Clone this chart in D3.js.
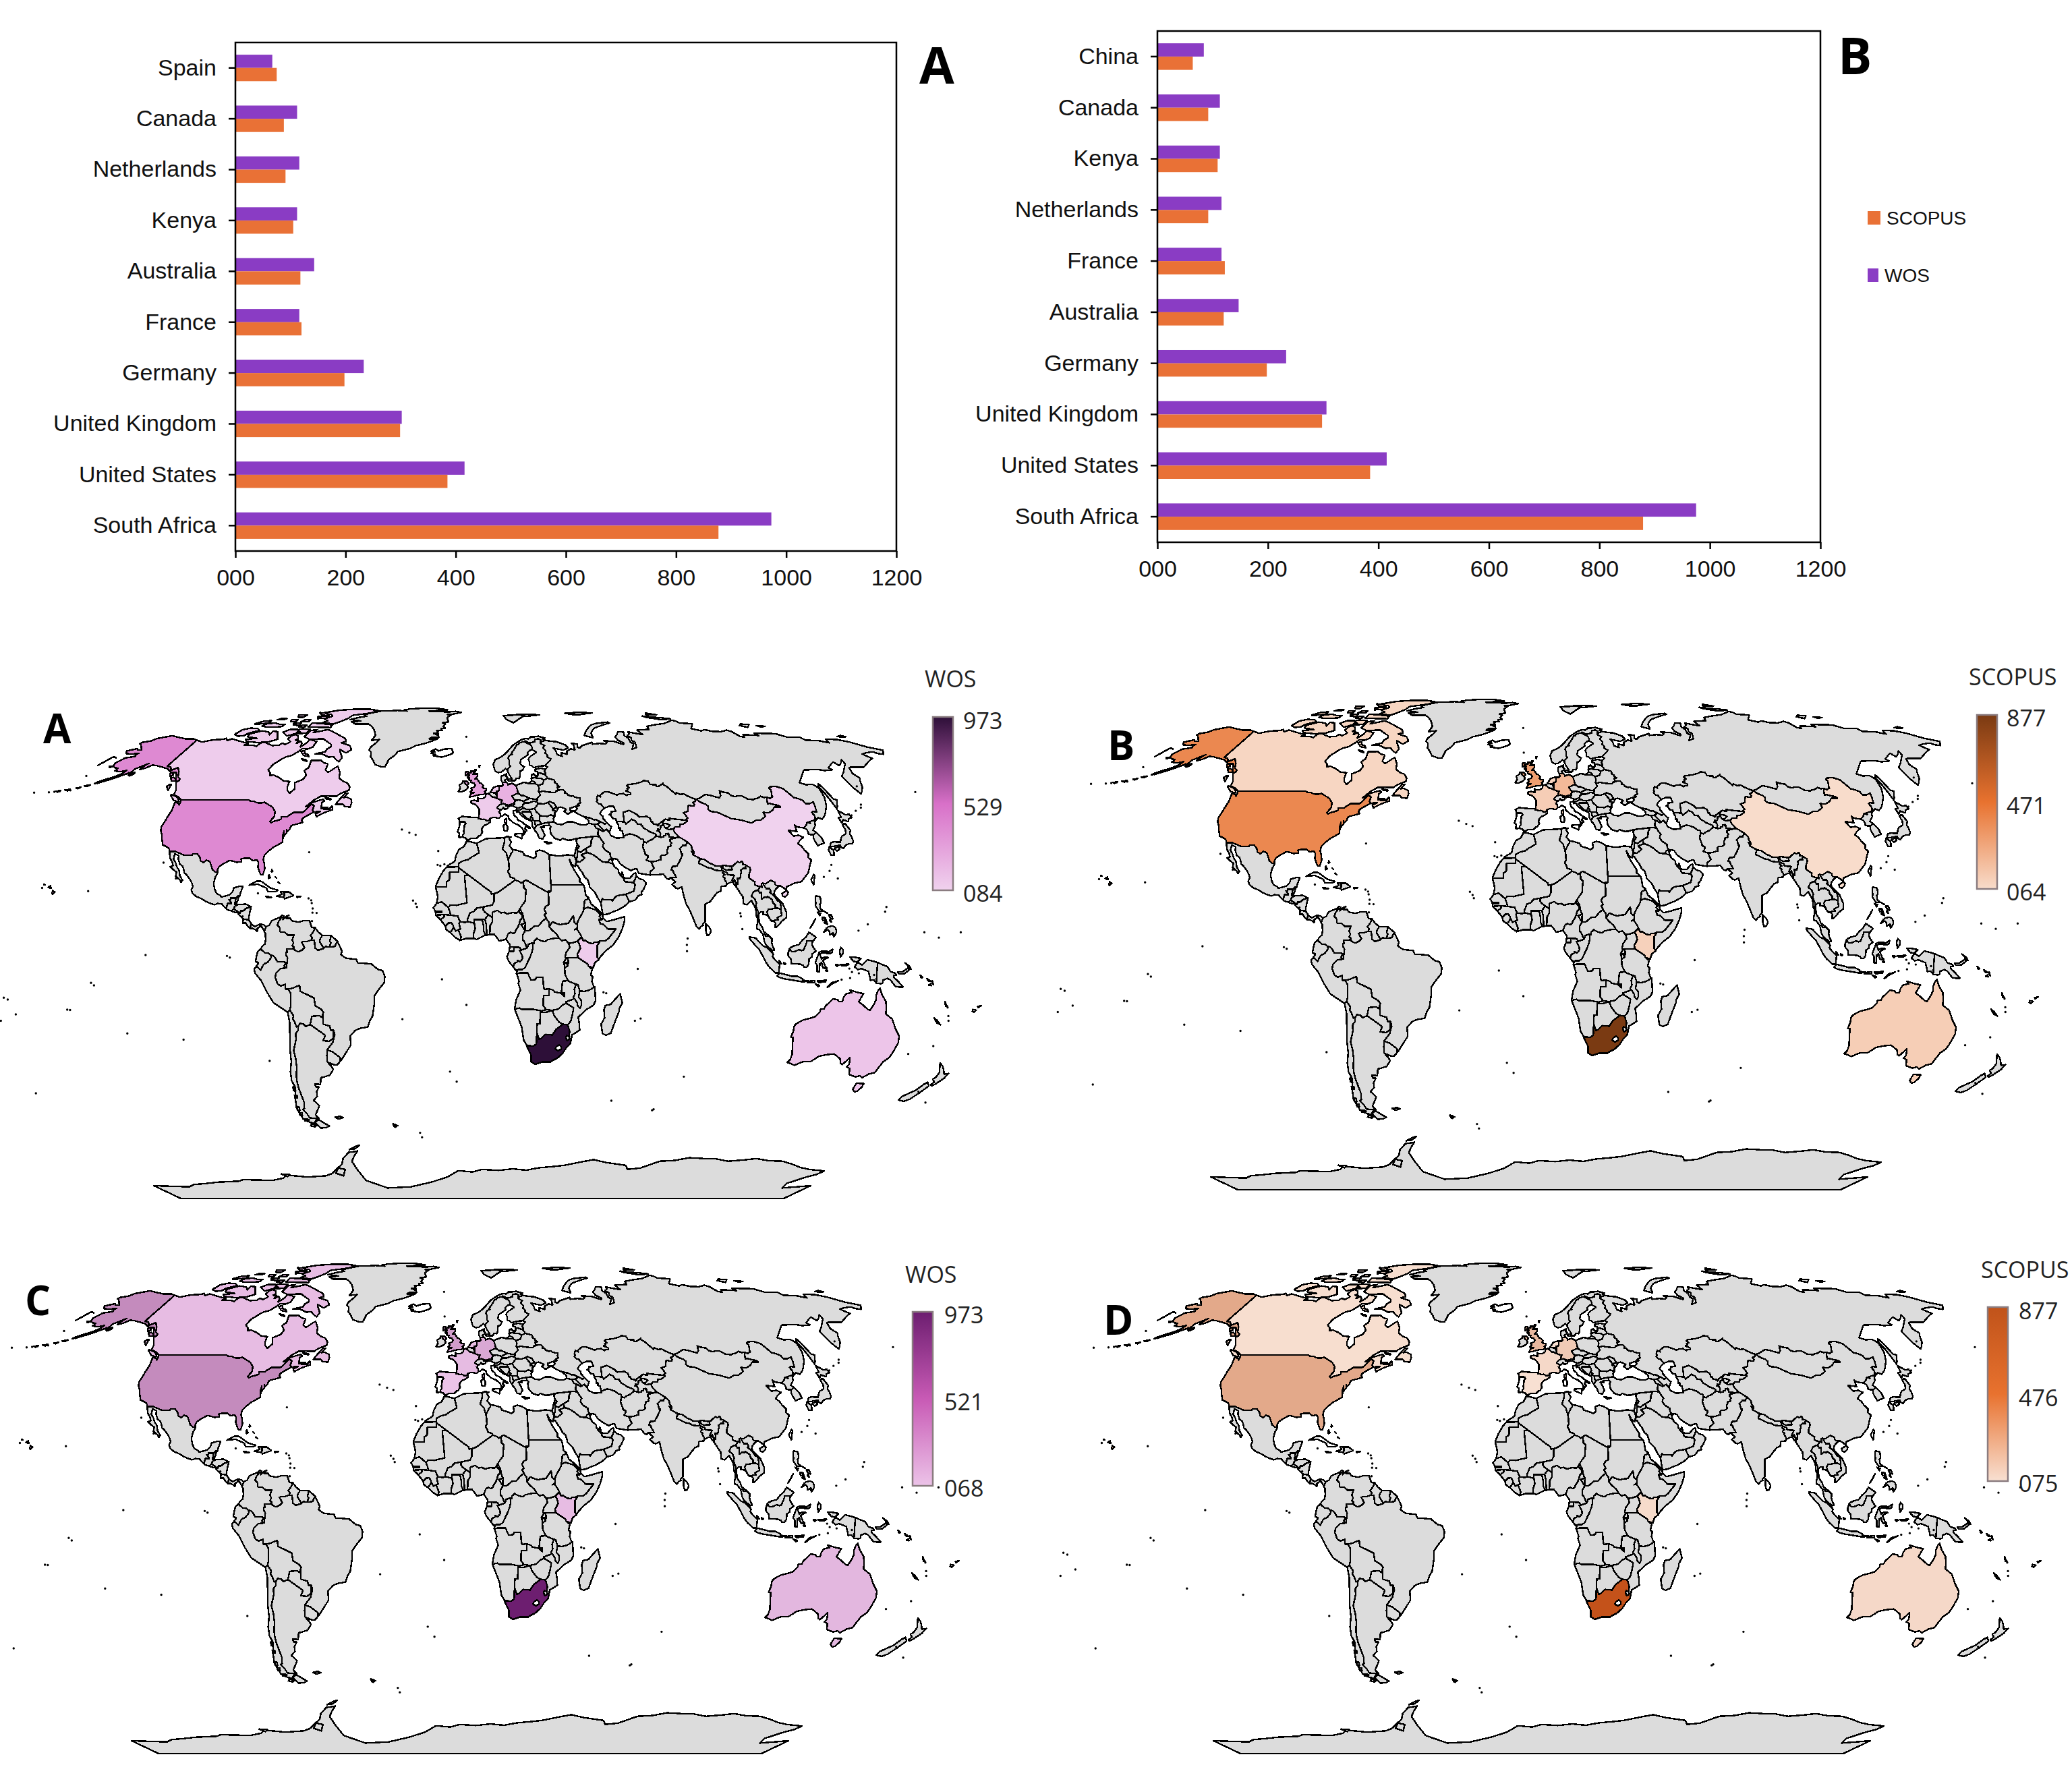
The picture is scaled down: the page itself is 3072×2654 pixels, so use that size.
<!DOCTYPE html>
<html>
<head>
<meta charset="utf-8">
<script src="https://cdn.jsdelivr.net/npm/d3@7"></script>
<style>
    body { margin: 0; background: #fff; }
    text { fill: #111; }
    .cat text, .val text { font-family: "Liberation Sans", Arial, sans-serif; font-size: 34px; }
    .map-legend text { font-family: "Open Sans", sans-serif; font-size: 34px; fill: #222; }
    .letter { font-family: "Open Sans", sans-serif; font-weight: 700; fill: #000; }
    .land { stroke: #000; stroke-width: 2.4; stroke-linejoin: round; shape-rendering: crispEdges; }
</style>
</head>
<body>
<div id="chart"></div>
<script>
// bar chart values
const categoriesA = ['Spain','Canada','Netherlands','Kenya','Australia','France','Germany','United Kingdom','United States','South Africa']
const wosA = [67,112,116,112,143,116,233,302,416,973]
const scopusA = [75,88,91,105,118,120,198,299,385,877]

const categoriesB = ['China','Canada','Kenya','Netherlands','France','Australia','Germany','United Kingdom','United States','South Africa']
const wosB = [84,113,113,116,116,147,233,306,415,975]
const scopusB = [64,92,109,92,122,120,198,298,385,879]

const axisTicks = [0,200,400,600,800,1000,1200]
const WOS_COLOR = '#8a3cc4'
const SCOPUS_COLOR = '#e97136'

// values on the four maps
const wosMapTop = {'United States':416,'Canada':112,'China':84,'Australia':143,'South Africa':973,'Kenya':112,'United Kingdom':302,'France':116,'Germany':233,'Netherlands':116}
const scopusMapTop = {'United States':385,'Canada':88,'China':64,'Australia':118,'South Africa':877,'Kenya':105,'United Kingdom':299,'France':120,'Germany':198,'Netherlands':91}
const wosMapBottom = {'United States':416,'Canada':112,'Spain':68,'Australia':143,'South Africa':973,'Kenya':112,'United Kingdom':302,'France':116,'Germany':233,'Netherlands':116}
const scopusMapBottom = {'United States':385,'Canada':88,'Spain':75,'Australia':118,'South Africa':877,'Kenya':105,'United Kingdom':299,'France':120,'Germany':198,'Netherlands':91}

// Robinson table
const robLat = [0,5,10,15,20,25,30,35,40,45,50,55,60,65,70,75,80,85,90]
const robLen = [1,.9986,.9954,.99,.9822,.973,.96,.9427,.9216,.8962,.8679,.835,.7986,.7597,.7186,.6732,.6213,.5722,.5322]
const robDep = [0,.062,.124,.186,.248,.31,.372,.434,.4958,.5571,.6176,.6769,.7346,.7903,.8435,.8936,.9394,.9761,1]

// rings are "lon,lat lon,lat ..."
const northAmerica = [
['United States',
"-122.8,49 -95.2,49 -94.6,48.7 -92.6,48.5 -91.4,48.1 -89.6,48 -88.4,48.3 -84.9,46.9 -84.1,46.5 -83.5,46 -82.5,45.3 -82.1,43.6 -83.1,42.1 -82.4,41.7 -81.3,42.2 -80.2,42.4 -78.9,42.9 -79.2,43.5 -76.8,43.6 -76.5,44 -74.9,45 -71.5,45 -70.7,45.5 -70,46.7 -69.2,47.5 -68.2,47.4 -67.8,47.1 -67.8,45.7 -67.1,45.1 -69.1,44 -70.6,43.1 -70.8,42.3 -70,41.8 -71.9,41.3 -73.7,40.9 -74.3,40.5 -74.2,39.7 -75,38.9 -75.5,39.5 -75.1,38.4 -76,37.2 -76.3,39.1 -76.3,37.9 -76,36.9 -75.7,35.5 -77.4,34.5 -78.6,33.9 -80.3,32.5 -81.3,31.4 -81.3,30 -80.5,28.5 -80.1,26.9 -80.4,25.2 -81.2,25.2 -81.7,25.9 -82.7,27.5 -82.9,29.1 -83.7,29.9 -85.1,29.6 -86.4,30.4 -88.4,30.4 -89.6,30.2 -89.2,29.3 -90.9,29.1 -92.5,29.5 -93.8,29.7 -95.6,28.7 -97.1,27.8 -97.4,26.7 -97.1,25.9 -98.2,26.1 -99.3,26.8 -100.1,28.1 -101,29.4 -102.5,29.8 -103.1,29 -104.5,29.6 -105,30.6 -106.5,31.8 -108.2,31.8 -108.2,31.3 -111,31.3 -114.8,32.5 -117.1,32.5 -117.9,33.6 -119.1,34.1 -120.6,34.6 -121.7,36.2 -122.5,37.6 -123.7,39 -124.4,40.3 -124.2,42 -124.1,43.7 -123.9,45.5 -124.7,48.2 -123.1,48 -122.4,47.4 -122.8,49",
"-156.6,71.4 -152.2,70.8 -147.6,70.2 -143.6,70.2 -141,69.7 -141,60.3 -139,60 -137.5,58.9 -135.5,59.8 -133.4,58.4 -131.7,56.6 -130,55.9 -130,55.3 -131.1,55.2 -132.3,56.4 -134.1,58.1 -136.6,58.2 -139.9,59.5 -143,60 -145.9,60.5 -148.2,60.7 -149.7,59.7 -151.7,59.2 -151.4,60.7 -150.6,61.3 -152.6,60.1 -154,59.4 -154.2,58.1 -156.3,57.4 -158.1,56.5 -160.3,55.6 -163.1,54.7 -164.8,54.4 -163.9,55 -161.8,55.9 -160.1,56.4 -157.7,57.6 -157,58.9 -159,58.4 -162,58.7 -161.9,59.6 -163.8,59.8 -165.4,60.5 -166.1,61.5 -164.9,62.6 -164.6,63.2 -162.3,63.5 -160.8,63.8 -161.5,64.4 -160.8,64.8 -163.6,64.6 -166.4,64.7 -168.1,65.7 -164.5,66.6 -163.7,66.1 -161.7,66.1 -163.7,67.1 -165.4,68 -166.8,68.4 -166.2,68.9 -163.2,69.4 -161.9,70.3 -159,70.9",
"-152.5,58.2 -154.3,57.4 -153.3,57 -152.3,57.6",
"-133.5,56.5 -132,56 -131.5,55.3 -133,55.3 -134.5,56.3","-135.8,58.2 -134.5,57.2 -135.5,56.8 -136.5,57.8",
"-164,54.9 -162.5,55.1 -163.5,54.5","-168,53.6 -166,54 -166.5,53.4","-170.5,52.9 -169,53.2 -169.5,52.7","-174.5,52.3 -172.5,52.5 -173,52","-177.5,51.9 -176,52.1 -176.5,51.6","-172.5,60.6 -170.8,63.4 -168.8,63.3 -170.5,63.7","-167,60.3 -165.2,60.2 -166,59.8",
"-155.9,20.2 -155,19.7 -155.7,19 -156,19.6","-157.2,21.7 -156.7,20.9 -157.8,21.2","-159.7,22.2 -159.3,22 -159.6,21.9"],
['Canada',
"-122.8,49 -124.9,50 -127.4,50.8 -127.9,52.3 -129.3,53.6 -130.5,54.8 -130,55.3 -130,55.9 -131.7,56.6 -133.4,58.4 -135.5,59.8 -137.5,58.9 -139,60 -141,60.3 -141,69.7 -137.5,69 -134.4,69.6 -131.4,69.9 -128.4,70 -127.5,70.4 -125.8,69.5 -124.4,70.2 -122.7,69.9 -119.9,69.4 -116.2,68.8 -113.9,68.4 -115.3,67.9 -110.8,67.8 -108.9,67.4 -108.2,68.7 -106.2,68.8 -103.2,68.1 -101.5,67.7 -98.4,67.8 -97.7,68.6 -96.1,68.2 -95.5,68.1 -94.2,69.1 -96.5,70.1 -96.4,71.2 -95.2,71.9 -92.9,71.3 -91.5,70.2 -92.4,69.7 -90.6,69.5 -90.6,68.5 -89.2,69.3 -88,68.6 -87.4,67.2 -85.6,68.8 -85.5,69.9 -81.3,69.2 -81.4,67.1 -83.3,66.4 -85.8,66.6 -87,65.2 -88.5,64.1 -90.7,63.6 -92,62.8 -94.2,60.9 -94.7,59 -92.8,57.9 -92.3,57.1 -90.9,57.3 -88,56.5 -85,55.3 -82.3,55.1 -82.1,53.3 -81.4,52.2 -79.9,51.2 -78.6,52.6 -79.8,54.7 -77.1,55.8 -76.6,57.2 -78.5,58.8 -77.3,59.9 -78.1,62.3 -75.7,62.3 -73.8,62.4 -71.7,61.5 -69.6,61.1 -69.3,59 -67.6,58.2 -65.3,59.9 -64.6,60.3 -62.5,58.2 -61.8,56.3 -59.6,55.2 -57.3,54.6 -55.8,53.3 -55.7,52.2 -58.8,51.1 -60,50.2 -63.9,50.3 -66.4,50.2 -68.5,49.1 -71.1,46.8 -68.7,48.3 -65.1,49.2 -64.2,48.7 -65.1,48.1 -64.5,46.2 -61.5,45.9 -60.5,47 -59.8,45.9 -63.3,44.7 -65.4,43.6 -66.2,44.5 -64.4,45.3 -67.1,45.1 -67.8,45.7 -67.8,47.1 -68.2,47.4 -69.2,47.5 -70,46.7 -70.7,45.5 -71.5,45 -74.9,45 -76.5,44 -76.8,43.6 -79.2,43.5 -78.9,42.9 -80.2,42.4 -81.3,42.2 -82.4,41.7 -83.1,42.1 -82.1,43.6 -82.5,45.3 -83.5,46 -84.1,46.5 -84.9,46.9 -88.4,48.3 -89.6,48 -91.4,48.1 -92.6,48.5 -94.6,48.7 -95.2,49",
"-123.5,48.5 -125.7,48.8 -128.4,50.5 -128.4,50.8 -125.4,50 -123.9,49.1","-132.7,54 -131.8,54.1 -131.2,52.2 -133,53.4",
"-55.6,51.3 -56.8,49.8 -55.5,49.9 -53.5,49.2 -53,48.2 -53.1,46.7 -54.2,46.8 -55.4,46.9 -56.3,47.6 -59.3,47.6 -58.4,49.1 -56.7,51.3",
"-64.5,49.9 -62,49.4 -61.8,49.1 -64,49.4","-64,46.6 -62,46.5 -62.5,46",
"-80,73.7 -77,73 -72,71.5 -68.8,70.5 -67.9,70.1 -66.9,69.2 -68.8,68.7 -64,67.7 -62.2,66.2 -63.9,65 -65.2,65.4 -67.8,66.3 -66.5,65 -64.7,63.4 -65.1,61.9 -66.6,62.4 -68.9,63.7 -71,63.5 -74.8,64.6 -78,64.6 -73.9,65.5 -74,66.5 -72.7,67.3 -73.3,68.1 -76.9,69.4 -79,70.2 -85.8,70 -89.4,71 -89,73.4 -85.8,73.8 -86.6,72.6 -81,73.7",
"-80.3,63.7 -83.1,64.1 -85.5,65.5 -84,65.9 -83.2,64.8 -81.2,64.4","-83,62.9 -80.5,62.5 -79.8,62 -81.8,62.4",
"-105.5,73 -101.5,70 -105,69 -110,68.8 -116,69.2 -117.3,70 -112.4,70.4 -117.9,71 -118.6,72 -114,73.3 -110,72.9 -108,71.8 -108,73.2",
"-123,71.2 -125.9,71.9 -124.8,73.7 -121.5,74.4 -117.6,74.2 -115.5,73.5 -119.2,72.5 -120.5,71.4",
"-106,75 -109,74.8 -114,74.8 -117,75.2 -116,76.3 -112,76.5 -109,76 -106,76",
"-117.5,76.3 -122,75.9 -122.5,76.2 -119.5,77.4 -116,77.5 -115.5,76.7",
"-88,78.2 -85,77.5 -87,76.5 -80,76.2 -77.9,77 -75,78.5 -74,79.8 -65,81 -62,82.3 -68,83.1 -77,83 -85,82.5 -92,81.2 -90,80.5 -87,80.3 -85,79.4",
"-80,74.6 -92,74.8 -92,76.5 -87,76.3 -80,75.7","-87,79.5 -92,80 -95,81.2 -91,81 -88,80 -87.5,78.6 -92,78.4 -93,79.2",
"-93.5,72.8 -98.5,71.3 -102.5,72.8 -100,73.9 -96.5,73.9","-90,72.5 -95,72 -95.5,74 -90,74","-94,74.6 -97,74.9 -96,75.6 -93.5,75.5","-97.5,75.5 -101,75.6 -102,76.3 -98,76.6","-102,77 -105,77.2 -105.5,78 -102,77.9","-110,78 -113.5,77.9 -112,78.6 -109,78.4","-95,77 -99,77 -98,78 -95,77.9","-101,79 -104,79 -105,80 -100,79.9"],
['Mexico',
"-117.1,32.5 -114.8,32.5 -111,31.3 -108.2,31.3 -108.2,31.8 -106.5,31.8 -105,30.6 -104.5,29.6 -103.1,29 -102.5,29.8 -101,29.4 -100.1,28.1 -99.3,26.8 -98.2,26.1 -97.1,25.9 -97.7,24.3 -97.9,22.4 -97.2,20.6 -96.3,19.3 -94.8,18.6 -94.4,18.1 -92.8,18.5 -91.4,18.9 -90.5,19.9 -90.3,21 -88.5,21.5 -87.1,21.5 -87.4,20.3 -87.6,19.6 -87.8,18.3 -88.5,18.5 -88.9,17.9 -89.1,17.8 -91,17.8 -91,17.3 -91.5,17.3 -90.5,16.4 -90.5,16.1 -91.8,16.1 -92.2,14.5 -93.9,15.9 -95.3,16.1 -96.6,15.7 -98,16.1 -99.7,16.7 -101.7,17.7 -103.5,18.3 -105,19.3 -105.7,20.4 -105.3,21.4 -105.7,22.3 -106.9,23.8 -108.4,25.2 -109.4,25.8 -109.8,26.7 -110.6,27.9 -111.8,28.5 -112.8,30 -113.2,31.2 -114.8,31.8 -114.7,30.2 -113.4,28.8 -112.8,27.8 -111.6,26.7 -110.7,24.8 -109.4,23.4 -109.9,22.8 -110.3,23.4 -112.2,24.7 -112.3,26 -113.9,26.9 -115.1,27.7 -114.2,28.1 -114.9,29.3 -115.9,30.2 -116.7,31.6"],
['Guatemala',"-90.1,13.7 -91.7,14.1 -92.2,14.5 -91.8,16.1 -90.5,16.1 -90.5,16.4 -91.5,17.3 -91,17.3 -91,17.8 -89.1,17.8 -89.2,15.9 -88.2,15.7 -89.2,15.1 -89.4,14.4 -89.7,14.1"],
['Belize',"-89.1,17.8 -88.9,17.9 -88.5,18.5 -88.1,18.4 -88.3,17.1 -88.7,16.2 -89.2,15.9"],
['Honduras',"-87.3,13 -87.8,13.4 -88.5,13.9 -89.4,14.4 -89.2,15.1 -88.2,15.7 -86.9,15.8 -85.2,15.9 -83.2,15 -84.2,14.8 -85.2,14.4 -85.8,13.8 -86.8,13.8 -87,13"],
['El Salvador',"-89.4,14.4 -88.5,13.9 -87.8,13.4 -88.2,13.2 -89.8,13.5 -90.1,13.7 -89.7,14.1"],
['Nicaragua',"-83.7,10.9 -84.4,11 -85.6,11.2 -86.5,11.8 -87.7,12.9 -87.3,13 -87,13 -86.8,13.8 -85.8,13.8 -85.2,14.4 -84.2,14.8 -83.2,15 -83.5,13.6 -83.7,11.9"],
['Costa Rica',"-82.6,9.6 -82.9,9.1 -83,8.2 -83.7,8.7 -84.7,9.9 -85.7,9.9 -85.7,11.1 -85.6,11.2 -84.4,11 -83.7,10.9"],
['Panama',"-77.4,8.7 -77.9,7.2 -78.4,8.1 -79.1,8.9 -80.4,8.3 -80.4,7.3 -81.1,7.8 -82.1,8.2 -83,8.2 -82.9,9.1 -82.6,9.6 -81.4,8.8 -79.6,9.6 -78.1,9.3"],
['Cuba',"-82.3,23.2 -80.6,23.1 -77,21 -74.2,20.3 -74.9,19.9 -77.8,19.9 -78.5,21 -81.8,22.2 -84.9,21.9"],
['Haiti',"-71.7,19.7 -73.2,19.9 -72.6,19 -74.4,18.4 -71.7,18"],
['Dominican Republic',"-71.7,19.7 -70,19.7 -68.3,18.6 -71.4,17.6 -71.7,18"],
['Jamaica',"-78.3,18.4 -76.2,18 -77.8,17.9"],
['Puerto Rico',"-67.2,18.4 -65.6,18.3 -67,18"],
['Bahamas',"-78.2,25.2 -77.6,24.3 -78,24","-77.5,26.8 -77,26.3 -77.4,26.1","-75.8,24.6 -75.2,24.1","-74.5,22.9 -73.8,22.4"],
['Greenland',
"-46.8,82.6 -43.4,83.2 -35,83.6 -27.1,83.5 -20.8,82.7 -31.4,82 -24.8,81.8 -20.6,81.5 -15.8,81.9 -12.2,81.3 -16.8,80.4 -20,80.2 -17.7,80.1 -19.7,78.8 -18.5,77 -21.7,76.6 -19.8,76.1 -20.7,75.2 -19.4,74.3 -21.6,74.2 -20.8,73.5 -23.6,73.3 -22.3,72.2 -24.8,72.3 -22.1,71.5 -21.8,70.7 -25.2,70.8 -26.4,70.2 -22.3,70.1 -27.7,68.5 -32,67.7 -34.2,66.7 -39.8,65.5 -40.7,64.1 -42.8,62.7 -43.4,60.1 -44.8,60 -48.3,60.9 -49.9,62.4 -51.6,63.6 -52.3,65.2 -53.7,66.1 -53.5,67.2 -52,68.6 -51,69.9 -54.7,69.6 -54.4,70.3 -54,71.5 -55,72.6 -56.1,73.6 -58.6,75.1 -61.3,76.1 -68.5,76.1 -71.4,77 -66.8,77.4 -73.3,78 -69.4,78.9 -65.7,79.4 -68,80.1 -63.7,81.2 -60.3,82 -54.1,82.2 -50.4,82.4 -44.5,82"]
]

const southAmerica = [
['Colombia',"-75.4,-.2 -76.3,.4 -77.4,.4 -77.9,.8 -79,1.7 -78.4,2.6 -77.5,3.3 -77.3,4.7 -77.5,6.7 -77.9,7.2 -77.4,8.7 -76.1,9.3 -75.5,10.6 -74.3,11.1 -72.6,11.7 -71.8,12.4 -71.1,12.1 -72,11.6 -72.9,10.5 -73.3,9.2 -72.4,8.4 -72.4,7.4 -72,7 -70.7,7.1 -69.4,6.1 -67.3,6.1 -67.8,4.5 -67.3,3.5 -67.8,2.8 -67.2,2.3 -66.9,1.3 -67.5,2 -67.9,1.7 -69.8,1.7 -69.2,1 -69.5,.7 -70,.5 -70,-.2 -69.4,-1.1 -69.9,-4.3 -70.7,-3.7 -70,-2.7 -70.8,-2.3 -72.3,-2.4 -73.1,-2.3 -73.7,-1.3 -74.4,-.5"],
['Venezuela',"-71.3,11.8 -72,11.6 -72.9,10.5 -73.3,9.2 -72.4,8.4 -72.4,7.4 -72,7 -70.7,7.1 -69.4,6.1 -67.3,6.1 -67.8,4.5 -67.3,3.5 -67.8,2.8 -67.2,2.3 -66.9,1.3 -65.5,.8 -64,1.5 -63.4,2.2 -64.4,3.8 -64,4 -62.8,4 -61,4.5 -60.7,5.2 -61.4,6 -60.5,6.9 -59.8,8.4 -61,8.5 -61.9,10.7 -63.9,10.7 -65.7,10.2 -68.2,10.6 -68.9,11.4 -70.2,11.4 -70,12.2 -71.4,11"],
['Guyana',"-57.1,6 -57.9,4.8 -58,4 -56.5,1.9 -58.5,1.3 -59.6,2 -59.8,3.6 -60,4.5 -61,4.5 -60.7,5.2 -61.4,6 -60.5,6.9 -59.8,8.4 -58.5,7"],
['Suriname',"-54,5.9 -54.4,4.2 -54,3.6 -54.5,2.3 -55.9,2.5 -56.5,1.9 -58,4 -57.9,4.8 -57.1,6"],
['French Guiana',"-51.7,4.2 -52.6,2.5 -54.5,2.3 -54,3.6 -54.4,4.2 -54,5.9"],
['Ecuador',"-80.3,-3.4 -79.8,-2.7 -80.9,-2.2 -80.1,.8 -79,1.7 -77.9,.8 -77.4,.4 -76.3,.4 -75.4,-.2 -75.2,-1 -76.6,-2.6 -77.8,-3 -78.5,-3.9 -79,-5 -80.3,-4"],
['Peru',"-69.9,-4.3 -70.7,-3.7 -70,-2.7 -70.8,-2.3 -72.3,-2.4 -73.1,-2.3 -73.7,-1.3 -74.4,-.5 -75.4,-.2 -75.2,-1 -76.6,-2.6 -77.8,-3 -78.5,-3.9 -79,-5 -80.3,-4 -80.3,-3.4 -81.4,-4.7 -81.1,-6 -79,-8.4 -77.1,-12.2 -75.2,-15.3 -72.5,-17 -70.4,-18.3 -69.6,-17.6 -69.1,-16.5 -68.9,-14 -68.7,-12.5 -69.5,-11 -70.5,-11 -70.5,-9.5 -72.2,-10 -73.2,-9.4 -74,-7.3 -73.7,-6 -72,-4.5"],
['Brazil',"-51.7,4.2 -50,1 -50.4,-.1 -48.6,-1.2 -44.9,-1.6 -44.4,-2.7 -39.6,-3 -37.2,-4.8 -35.6,-5.1 -34.8,-7 -35.1,-9 -37,-11 -38.7,-13.1 -38.9,-15.7 -39.8,-19.6 -40.8,-20.9 -41.8,-23 -44.6,-23.4 -46.5,-24.1 -48.5,-25.9 -48.6,-28.7 -50.7,-31 -52.7,-33.2 -53.4,-33.8 -53.2,-32.7 -55.6,-30.9 -57.6,-30.2 -55.2,-27.9 -54.1,-25.5 -54.3,-24 -55.4,-24 -55.6,-22.7 -57.9,-22.1 -57.8,-20.2 -57.5,-18.2 -58.3,-17.3 -60.2,-16.3 -60.5,-13.8 -63.2,-12.6 -65.3,-11.7 -65.4,-9.8 -68,-10.7 -69.5,-11 -70.5,-11 -70.5,-9.5 -72.2,-10 -73.2,-9.4 -74,-7.3 -73.7,-6 -72,-4.5 -69.9,-4.3 -69.4,-1.1 -70,-.2 -70,.5 -69.5,.7 -69.8,1.7 -67.9,1.7 -67.5,2 -66.9,1.3 -65.5,.8 -64,1.5 -63.4,2.2 -64.4,3.8 -64,4 -62.8,4 -61,4.5 -60,4.5 -59.8,3.6 -59.6,2 -58.5,1.3 -56.5,1.9 -55.9,2.5 -54.5,2.3 -52.6,2.5"],
['Bolivia',"-62.7,-22.2 -64.4,-22.8 -65,-22.1 -66.3,-21.8 -67.1,-22.7 -67.8,-22.9 -68.2,-21.5 -68.8,-20.4 -68.4,-19.4 -69.6,-17.6 -69.1,-16.5 -68.9,-14 -68.7,-12.5 -69.5,-11 -68,-10.7 -65.4,-9.8 -65.3,-11.7 -63.2,-12.6 -60.5,-13.8 -60.2,-16.3 -58.3,-17.3 -57.5,-18.2 -58.2,-19.9 -59.1,-19.4 -61.8,-19.6"],
['Paraguay',"-62.7,-22.2 -61.8,-19.6 -59.1,-19.4 -58.2,-19.9 -57.8,-20.2 -57.9,-22.1 -55.6,-22.7 -55.4,-24 -54.3,-24 -54.6,-25.7 -54.8,-26.6 -56.5,-27.5 -58.6,-27.3 -57.6,-25.6 -60,-24"],
['Uruguay',"-57.6,-30.2 -55.6,-30.9 -53.2,-32.7 -53.4,-33.8 -54.9,-35 -56.2,-34.9 -58.4,-34 -58.1,-32"],
['Argentina',"-66.3,-21.8 -65,-22.1 -64.4,-22.8 -62.7,-22.2 -60,-24 -57.6,-25.6 -58.6,-27.3 -56.5,-27.5 -54.8,-26.6 -54.1,-25.5 -55.2,-27.9 -57.6,-30.2 -58.1,-32 -58.4,-34 -57.2,-35.3 -56.7,-36.4 -58.4,-38.2 -61.2,-38.9 -62.1,-39 -63,-41.2 -65.1,-41 -65,-42 -63.8,-42 -65.3,-43.5 -65.6,-45 -67.6,-46.3 -66,-48 -67.8,-49.9 -69,-51 -68.2,-52.3 -71.9,-52 -72.3,-50.7 -73.3,-49.3 -72.5,-48.9 -71.7,-46.9 -71.8,-44.2 -71.9,-41.8 -71.7,-39.8 -71.1,-37.6 -70.4,-36 -70,-32.9 -70.1,-30.4 -68.6,-27 -68.3,-25 -67.3,-24 -67.1,-22.7",
"-68.6,-52.6 -65.1,-54.7 -66.5,-55.2 -69.2,-55.4 -70.6,-53.6","-59,-51.5 -61.2,-51.8 -60,-52.4 -58,-51.9"],
['Chile',"-69.6,-17.6 -68.4,-19.4 -68.8,-20.4 -68.2,-21.5 -67.8,-22.9 -67.1,-22.7 -67.3,-24 -68.3,-25 -68.6,-27 -70.1,-30.4 -70,-32.9 -70.4,-36 -71.1,-37.6 -71.7,-39.8 -71.9,-41.8 -71.8,-44.2 -71.7,-46.9 -72.5,-48.9 -73.3,-49.3 -72.3,-50.7 -71.9,-52 -68.2,-52.3 -69.5,-52.5 -71,-53.8 -72.6,-53.5 -74.9,-52.3 -75.6,-48.7 -74.7,-45.8 -73.2,-42.1 -73.7,-39.9 -73.2,-37.1 -71.9,-33.9 -71.4,-30.1 -70.9,-27.6 -70.1,-21.4 -70.4,-18.3",
"-74,-42 -73.5,-42 -73.5,-43.3 -74.3,-43.2","-74.5,-44.6 -73.5,-44.6 -73.8,-45.5 -74.7,-45.5","-75.3,-48.5 -74.5,-48.5 -74.7,-49.6 -75.5,-49.6","-75.3,-50.3 -74.3,-50.3 -74.5,-51.2 -75.4,-51.2","-74,-52.3 -72.5,-52.6 -73,-53.2 -74.5,-53","-72,-54 -70.5,-54.5 -71.5,-55 -73,-54.6"]
]

const europe = [
['Iceland',"-14.5,66.5 -13.6,65 -14.9,64.4 -18.7,63.5 -22.8,64 -21.8,64.4 -24,64.9 -22.2,65.4 -24.3,65.6 -22.2,66.4 -20.6,65.7 -18,66.4 -16.2,66.5"],
['Norway',"28.2,71.2 31.3,70.5 30,70.2 31.1,69.6 29.4,69.2 28.6,69.1 29,69.8 27.7,70.2 26,69.9 25.7,69.1 23.7,68.7 22.4,68.8 21.2,69.4 20.6,69.1 20,69.1 18,68.6 17.7,68 16.8,68 16.1,67.3 15.1,66.2 13.6,64.8 14,64.5 12.6,64.1 11.9,63.1 12.3,62.3 12.1,61 12.6,60.3 11.5,59.4 11,59 10.4,59.5 8.4,58.3 7,58.1 5.7,58.6 5.3,59.7 5,61 5.9,62.6 8.6,63.5 10.5,64.5 12.4,65.9 14.8,67.8 16.4,68.6 19.2,69.8 21.4,70.3 23,70.2 24.5,71 26.4,71"],
['Sweden',"20.6,69.1 22,68.6 23.5,67.9 24,66.8 23.6,66.4 22.2,65.7 21.2,65 21.4,64.4 19.8,63.6 17.8,62.7 17.1,61.3 17.8,60.6 18.8,60.1 17.9,59 16.8,58.7 16.4,57 15.9,56.1 14.7,56.2 14.1,55.4 12.9,55.4 12.6,56.3 11.8,57.4 11,59 11.5,59.4 12.6,60.3 12.1,61 12.3,62.3 11.9,63.1 12.6,64.1 14,64.5 13.6,64.8 15.1,66.2 16.1,67.3 16.8,68 17.7,68 18,68.6 20,69.1"],
['Finland',"28.6,69.1 28.4,68.4 30.2,67.7 29.1,66.9 30,65.7 29.5,64.9 30.4,64.2 30,63.6 31.5,62.9 31.1,62.4 28.1,60.5 26.3,60.4 24.5,60.1 22.9,59.8 22.3,60.4 21.3,60.7 21.5,61.7 21.1,62.6 21.5,63.2 22.4,63.8 24.7,64.9 25.4,65.1 25.3,65.5 23.9,66 23.6,66.4 24,66.8 23.5,67.9 22,68.6 20.6,69.1 21.2,69.4 22.4,68.8 23.7,68.7 25.7,69.1 26,69.9 27.7,70.2 29,69.8"],
['Denmark',"10.6,57.7 10.3,56.9 10.9,56.5 10.6,56 9.6,55.5 9.9,55 9.3,54.8 8.5,54.9 8.1,55.5 8.1,56.5 8.5,57.1 9.4,57.2","12.6,56 12.4,55.3 11.2,55.3 11,55.8"],
['Germany',"9.9,55 10.9,54.4 10.9,54 12.5,54.5 13.6,54.1 14.1,53.8 14.4,53.2 14.6,52.6 14.7,52.1 15,51.1 14.3,51.1 12.2,50.3 12.9,49.3 13.6,48.9 13,48.3 13,47.5 12.1,47.7 10.4,47.3 9.6,47.5 8.5,47.8 7.5,47.6 8.1,49 6.7,49.2 6.2,49.5 6.1,50.1 6,50.8 6.1,51.2 6,51.9 6.9,52 7.1,53.1 7.1,53.7 8.1,53.5 8.8,54 8.5,54.9 9.3,54.8"],
['Netherlands',"7.1,53.7 7.1,53.1 6.9,52 6,51.9 6.1,51.2 5.7,50.8 5.6,51.3 4.3,51.4 3.3,51.4 4.7,53.1 6,53.5"],
['Belgium',"3.3,51.4 4.3,51.4 5.6,51.3 5.7,50.8 6.1,50.1 5.8,49.5 4.8,50 4.3,49.9 3.6,50.4 2.5,51.1"],
['Luxembourg',"6.1,50.1 6.2,49.5 5.8,49.5"],
['France',"2.5,51.1 3.6,50.4 4.3,49.9 4.8,50 5.8,49.5 6.2,49.5 6.7,49.2 8.1,49 7.5,47.6 6.8,47.3 6,46.7 6,46.3 7,45.9 7,45.3 6.6,45.1 7.1,44.7 7.4,43.7 6.5,43.1 4.6,43.4 3.1,43.1 3,42.5 1.8,42.3 .7,42.8 0,42.7 -1.5,43 -1.2,44.6 -1.2,46 -2.2,47.1 -3,47.6 -4.5,48 -4.6,48.7 -3.3,48.9 -1.6,48.6 -1.9,49.8 -1.1,49.4 .2,49.4 1.3,50.1 1.6,50.9","9.5,43 9.5,41.5 8.7,41.8 8.7,42.6"],
['Spain',"-1.5,43 0,42.7 .7,42.8 1.8,42.3 3,42.5 3.2,41.9 2,41.2 .8,40.8 .1,40.1 -.3,39.3 .1,38.7 -.7,37.6 -1.4,37.4 -2.1,36.7 -4.4,36.7 -5.4,36 -6.5,36.9 -7.5,37.1 -7.4,37.9 -6.9,38.2 -7.2,38.9 -7,39.7 -6.9,41 -6.4,41.4 -6.7,41.9 -8.2,42 -8.8,41.9 -9,42.6 -9.4,43 -8,43.7 -6.8,43.6 -4.3,43.4 -1.9,43.4"],
['Portugal',"-8.8,41.9 -8.2,42 -6.7,41.9 -6.4,41.4 -6.9,41 -7,39.7 -7.2,38.9 -6.9,38.2 -7.4,37.9 -7.5,37.1 -8.9,37 -8.8,38.3 -9.5,38.7 -8.8,40.8"],
['United Kingdom',"-3,58.6 -4.1,57.6 -2,57.7 -2.1,56.9 -3.1,56 -2.1,55.9 -1.1,54.6 -.4,54.5 .5,53.6 0,53.2 .5,52.9 1.7,52.7 1.6,52.1 1,51.8 1.4,51.3 .6,50.8 -.8,50.8 -2.5,50.5 -3.6,50.2 -5.3,50 -4.5,51.2 -3.4,51.4 -5,51.6 -4.2,52.3 -4.8,52.8 -3.1,53.4 -3,54 -3.6,54.6 -5,54.8 -4.7,55.5 -5.6,55.5 -5.6,56.3 -6.1,56.8 -5.8,57.8 -5,58.6",
"-5.7,54.6 -6.2,53.9 -7,54.1 -7.4,54.6 -7.6,55.1 -6.7,55.2","-7.4,58.3 -6.2,58.5 -6.4,57.3 -7.4,57.2","-6.5,57.4 -5.8,57.5 -5.7,57","-3.3,59.2 -2.6,59.2 -2.9,58.8","-1.6,60.6 -1,60.5 -1.3,59.9","-6.3,56.6 -5.6,56.3 -6.2,56.2"],
['Ireland',"-6.2,53.9 -6.1,53 -6.8,52.3 -8.6,51.7 -10,51.8 -9.2,52.9 -9.7,53.9 -8.3,54.7 -8.3,55.2 -7.6,55.1 -7.4,54.6 -7,54.1"],
['Switzerland',"7.5,47.6 8.5,47.8 9.6,47.5 9.5,47.1 10.4,46.9 10.1,46.2 9,46 8.4,46.5 7.8,45.9 7,45.9 6,46.3 6,46.7 6.8,47.3"],
['Austria',"9.6,47.5 10.4,47.3 12.1,47.7 13,47.5 13,48.3 13.6,48.9 15,49 16.9,48.6 17.1,48 16.5,47.5 16.2,46.9 14.6,46.4 13.8,46.5 12.2,47.1 10.4,46.9 9.5,47.1"],
['Italy',"7,45.9 7.8,45.9 8.4,46.5 9,46 10.1,46.2 10.4,46.9 12.2,47.1 13.8,46.5 13.7,45.7 12.3,45.4 12.6,44.1 13.8,43.1 14,42.5 16.1,41.7 15.9,41.5 18.4,40.2 18.5,40 17.9,40 16.9,40.4 16.4,39.8 17.2,39.2 16.6,38.8 16,37.9 15.7,38.2 16,39 15.4,40 14.1,40.9 12.1,41.7 10.5,42.9 10.2,43.9 8.9,44.4 7.9,43.8 7.4,43.7 7.1,44.7 6.6,45.1 7,45.3","15.5,38.2 15.1,36.6 12.4,37.6 12.6,38.1","9.2,41.2 9.8,40.5 9.7,39.2 9,39 8.4,39.2 8.2,40.9"],
['Poland',"14.1,53.8 14.4,53.2 14.6,52.6 14.7,52.1 15,51.1 16.2,50.4 16.9,50.5 18.6,49.9 18.9,49.4 19.3,49.6 20.9,49.3 22.6,49.1 22.5,49.5 23.5,50.3 24,50.7 23.5,51.6 23.5,52 23.9,52.7 23.8,53.1 23.5,53.9 22.7,54.3 19.7,54.4 18.6,54.7 17.6,54.8 16.4,54.4"],
['Czechia',"15,51.1 16.2,50.4 16.9,50.5 18.6,49.9 18.9,49.4 17.6,48.9 16.9,48.6 15,49 13.6,48.9 12.9,49.3 12.2,50.3 14.3,51.1"],
['Slovakia',"18.9,49.4 19.3,49.6 20.9,49.3 22.6,49.1 22.1,48.4 20.8,48.6 18.9,48 17.1,48 16.9,48.6 17.6,48.9"],
['Hungary',"17.1,48 18.9,48 20.8,48.6 22.1,48.4 22.7,47.9 21.7,46.9 21,46.2 20.2,46.1 18.8,45.9 17.6,46 16.4,46.4 16.2,46.9 16.5,47.5"],
['Slovenia',"13.8,46.5 14.6,46.4 16.2,46.9 16.4,46.4 15.4,45.9 13.7,45.5 13.7,45.7"],
['Croatia',"16.4,46.4 17.6,46 18.8,45.9 19,45.2 16,45.2 15.8,44.7 17.6,43.1 18.5,42.5 17,43 15.2,44.2 14.8,45.1 13.7,45 13.7,45.5 15.4,45.9"],
['Bosnia',"16,45.2 19,45.2 19.4,44.9 19.6,44 19.2,43.5 18.5,42.5 17.6,43.1 15.8,44.7"],
['Serbia',"19,45.2 18.8,45.9 20.2,46.1 21,46.2 21.5,45.2 22.7,44.2 22.5,43.1 22.4,42.3 20.5,42.2 19.7,42.7 20,43.1 19.2,43.5 19.6,44 19.4,44.9"],
['Montenegro',"18.5,42.5 19.2,43.5 20,43.1 19.7,42.7 19.3,42.2"],
['Albania',"19.3,42.2 19.7,42.7 20.5,42.2 20.6,41.1 21,40.6 20,39.7 19.4,40.5 19.5,41.5"],
['Macedonia',"20.5,42.2 22.4,42.3 23,41.3 21,40.8 20.6,41.1"],
['Bulgaria',"22.7,44.2 22.9,43.9 25.6,43.7 27.2,44.2 28.6,43.7 28,43 28,42 26.1,41.8 24.5,41.6 23,41.3 22.4,42.3 22.5,43.1"],
['Romania',"22.7,47.9 24.9,47.7 26.6,48.2 28.2,46.4 28.1,45.6 29.6,45.3 28.8,44.9 28.6,43.7 27.2,44.2 25.6,43.7 22.9,43.9 22.7,44.2 21.5,45.2 21,46.2 21.7,46.9"],
['Moldova',"26.6,48.2 27.5,48.5 29.1,47.9 30,46.4 28.9,46.3 28.1,45.6 28.2,46.4"],
['Ukraine',"24,50.7 23.5,51.6 25.3,51.9 27.5,51.6 30.2,51.4 30.9,52 31.8,52.1 32.4,52.3 33.8,52.3 34.4,51.8 34.2,51.3 35,51.2 35.4,50.6 36.6,50.2 37.4,50.4 38,49.9 40.1,49.6 39.7,48.8 39.9,48.2 39.7,47.9 38.8,47.8 38.2,47.1 35.2,46.3 35,45.7 36.6,45.4 35.2,45 33.9,44.4 32.6,45.3 33.6,46 31.7,46.7 30.7,46.6 29.6,45.3 28.1,45.6 28.9,46.3 30,46.4 29.1,47.9 27.5,48.5 26.6,48.2 24.9,47.7 22.7,47.9 22.1,48.4 22.6,49.1 22.5,49.5 23.5,50.3"],
['Belarus',"23.5,51.6 25.3,51.9 27.5,51.6 30.2,51.4 30.9,52 31.8,52.1 31.5,53.2 32.7,53.4 31.8,53.8 31.8,54.3 30.8,54.8 31,55.1 30.9,55.6 29.9,55.8 28.2,56.2 26.5,55.6 25.6,54.3 24,53.9 23.5,53.9 23.8,53.1 23.9,52.7 23.5,52"],
['Lithuania',"23.5,53.9 24,53.9 25.6,54.3 26.5,55.6 25.5,56.1 22.2,56.4 21.1,56 21.1,55.3 22.3,55 22.7,54.3"],
['Kaliningrad',"19.7,54.4 22.7,54.3 22.3,55 21.1,55.3"],
['Latvia',"21.1,56 22.2,56.4 25.5,56.1 26.5,55.6 28.2,56.2 27.9,56.8 27.3,57.5 25.2,58 24.4,57.9 24.1,57 23,57 22.5,57.7 21.6,57.4"],
['Estonia',"24.4,57.9 25.2,58 27.3,57.5 27.7,57.8 27.4,58.7 28.1,59.3 25.9,59.6 23.3,59.2 23.3,58.6 24.4,58.4"],
['Greece',"21,40.8 23,41.3 24.5,41.6 26.1,41.8 26,40.8 23.7,40.7 24,40.2 22.6,40.3 23.3,39.2 24,37.7 23,36.5 21.7,36.8 21.1,38.3 20.2,39.3 20,39.7 21,40.6","23.6,35.6 26.3,35.3 24.8,34.9"],
['Svalbard',"12,79.7 21.5,80 24,79.5 21,78.5 17,76.6 13.5,78","20,80.4 27,80.2 33,80 25,79.4"]
]

const africa = [
['Egypt',"25,31.6 27.5,31.2 29.7,31.2 31.9,31.5 34.3,31.2 34.9,29.5 34.3,27.8 33.1,28.4 32.4,30 32.7,28.7 33.9,26.6 35.7,23.9 35.5,23.1 36.9,22 25,22"],
['Libya',"25,31.6 25,22 25,20 24,20 24,19.5 16,23.5 15,23 14.1,22.5 13.6,23 12,23.5 11.6,24.1 10.3,24.4 9.9,25.4 9.4,26.2 9.9,27 9.8,29.4 9.5,30.3 10,30.5 10.3,31 10.9,32.1 11.4,32.4 11.5,33.1 13,32.9 15.2,32.3 15.7,31.4 18,30.8 19.1,30.3 20.1,31 20,32.5 21.5,33 23.1,32.6"],
['Tunisia',"9.5,37.3 11,37.1 10.2,36.7 11,35.5 10.2,34.3 11.5,33.1 11.4,32.4 10.9,32.1 10.3,31 10,30.5 9.5,30.3 9,32.1 7.6,33.3 8.4,35.5 8.4,36.9"],
['Algeria',"8.4,36.9 8.4,35.5 7.6,33.3 9,32.1 9.5,30.3 9.8,29.4 9.9,27 9.4,26.2 9.9,25.4 10.3,24.4 11.6,24.1 12,23.5 5.7,19.6 4.3,19.2 3.2,19.1 3.1,19.8 1.8,20.6 -4.9,25 -8.7,27.4 -8.7,28.8 -7.1,29.6 -5.2,30 -3.7,30.9 -1.2,32.1 -1.4,32.9 -1.7,33.9 -2.1,35.1 1.5,36.6"],
['Morocco',"-2.1,35.1 -1.7,33.9 -1.4,32.9 -1.2,32.1 -3.7,30.9 -5.2,30 -7.1,29.6 -8.7,28.8 -8.7,27.7 -13.1,27.6 -12.9,28 -10.2,29.4 -9.8,31.2 -8.7,33.2 -6.9,34.1 -5.9,35.8 -5,35.7"],
['Western Sahara',"-8.7,27.7 -8.7,26 -12,26 -12,23.5 -13,23 -13,21.3 -17,21.4 -16,23.7 -14.4,26.3 -13.1,27.6"],
['Mauritania',"-17,21.4 -13,21.3 -13,23 -12,23.5 -12,26 -8.7,26 -8.7,27.4 -4.9,25 -6.5,25 -5.5,16.3 -9.3,15.5 -11.5,15.6 -12.2,14.8 -14.6,16.6 -16.5,16.1 -16.1,18.1 -16.3,19.1 -16.9,21"],
['Mali',"-12.2,14.8 -11.5,15.6 -9.3,15.5 -5.5,16.3 -6.5,25 -4.9,25 1.8,20.6 3.1,19.8 3.2,19.1 4.3,19.2 4.3,16.9 3.6,15.6 .4,15 -.3,14.9 -2,14.6 -3.1,13.5 -4.3,13.2 -5.2,11.4 -5.4,10.4 -6,10.1 -7.9,10.3 -8.3,11 -8.8,12.1 -9.7,12.2 -11.4,12.4 -11.5,13.1"],
['Niger',"3.6,15.6 4.3,16.9 4.3,19.2 5.7,19.6 12,23.5 13.6,23 14.1,22.5 15,23 15.1,21.1 15.5,20.7 15.9,20.4 15.5,16.9 13.5,14.4 13.1,13.6 12.3,13.1 10.7,13.2 9,12.8 7.8,13.3 6.8,13.1 5.4,13.9 3.7,13.3 3.6,11.7 2.8,12.2 2.2,12.5 1,13.3 .4,14 .4,15"],
['Chad',"15.5,16.9 15.9,20.4 15.5,20.7 15.1,21.1 15,23 16,23.5 24,19.5 24,15.7 22.9,15.2 22.3,14.3 23,13 22.3,12.6 22.9,11.4 21.7,10.6 20.1,9 18.8,9 16.7,7.5 15.3,7.4 15.4,9.9 14.9,10.9 14.5,12.9 13.5,14.4"],
['Sudan',"24,19.5 25,20 25,22 36.9,22 37.2,21 37.5,18.6 38.4,18 37.9,17.4 37,17.1 36.5,14.3 36.3,13.6 35.3,12.1 34.8,11.3 34.3,10.6 34,9.5 33,10 32.7,12.2 30.8,9.8 29,9.6 28,9.4 27,9.6 25.1,10.3 24,8.7 23.9,10.1 22.9,11.4 22.3,12.6 23,13 22.3,14.3 22.9,15.2 24,15.7"],
['South Sudan',"24,8.7 25.1,10.3 27,9.6 28,9.4 29,9.6 30.8,9.8 32.7,12.2 33,10 34,9.5 34,8.4 33,7.8 33.8,8 34.9,6.6 36,4.4 35.3,5.4 34,4.2 32.7,3.8 31.9,3.6 30.8,3.5 29.7,4.6 28.4,4.3 27.4,5.2 26.4,6.6 25.1,7.5"],
['Eritrea',"36.5,14.3 37,17.1 37.9,17.4 38.4,18 39.3,15.9 41.2,14.5 43.1,12.7 42.4,12.5 40.9,14.1 39.3,14.5 37.9,14.9"],
['Ethiopia',"36.3,13.6 36.5,14.3 37.9,14.9 39.3,14.5 40.9,14.1 42.4,12.5 42,12.1 42.8,11 41.8,11 42.3,9.6 43.3,9.5 44.9,8 47.8,8 45,5 43.9,4.3 42,4.2 41.2,3.9 39.9,3.8 39.6,3.4 38.1,3.6 36.9,4.4 36,4.4 34.9,6.6 33.8,8 33,7.8 34,8.4 34,9.5 34.3,10.6 34.8,11.3 35.3,12.1"],
['Djibouti',"42.4,12.5 43.1,12.7 43.3,11.5 42.8,11 42,12.1"],
['Somalia',"42.8,11 43.3,11.5 44.6,10.4 46.6,10.8 48.9,11.4 51.1,11.9 51,10.6 50.1,8.1 48.6,5.3 46.6,2.9 44,1.1 42,-.9 41.6,-1.7 41,-.9 41,2.8 41.9,3.9 42,4.2 43.9,4.3 45,5 47.8,8 44.9,8 43.3,9.5 42.3,9.6 41.8,11"],
['Kenya',"41.6,-1.7 40.2,-2.6 39.6,-4.3 37.8,-3.7 37.7,-3.1 34.1,-1 33.9,.1 34.6,1.2 35,1.9 34.5,3.6 34,4.2 35.3,5.4 36,4.4 36.9,4.4 38.1,3.6 39.6,3.4 39.9,3.8 41.2,3.9 41.9,3.9 41,2.8 41,-.9"],
['Uganda',"30.4,-1.1 34.1,-1 33.9,.1 34.6,1.2 35,1.9 34.5,3.6 34,4.2 32.7,3.8 31.9,3.6 30.8,3.5 31.2,2.2 29.9,.6 29.6,-.6 29.8,-1.4"],
['Tanzania',"34.1,-1 37.7,-3.1 37.8,-3.7 39.2,-4.7 38.8,-6.5 39.5,-7.1 39.2,-8.5 39.9,-10.1 40.3,-10.3 38.4,-11.3 36.6,-11.7 35,-11.6 34.3,-9.7 33.7,-9.4 32.8,-9.2 31.2,-8.6 30.7,-8.3 29.6,-6.5 29.4,-4.4 30.5,-3.6 30.8,-2.3 30.4,-1.1"],
['Rwanda',"29.8,-1.4 30.4,-1.1 30.8,-2.3 29.9,-2.7 29,-2.7"],
['Burundi',"29,-2.7 29.9,-2.7 30.5,-3.6 29.4,-4.4 29.3,-3.3"],
['DR Congo',"12.2,-6 13.4,-5.9 16.3,-5.9 16.9,-7.2 17.5,-8.1 19,-8 19.4,-7.2 21.7,-7.3 21.9,-9.5 22.2,-11.1 23.9,-10.9 25.4,-11.3 26,-11.9 28.2,-12.3 29.6,-13.3 29.6,-12.2 28.4,-12.3 28.6,-9.8 28.7,-8.5 30.7,-8.3 29.6,-6.5 29.4,-4.4 29.3,-3.3 29,-2.7 29.8,-1.4 29.6,-.6 29.9,.6 31.2,2.2 30.8,3.5 29.7,4.6 28.4,4.3 27.4,5.2 26.4,5.1 25.1,5 23.3,4.6 22.4,4 20.9,4.3 19.5,5 18.5,4.2 18.5,3.5 17.9,3.6 18.1,2.4 17.8,.9 16.9,-1.2 15.9,-3 15.2,-4.3 14.2,-4.8 13,-4.8 12.6,-5"],
['Congo',"11.1,-4 11.9,-5 12.6,-5 13,-4.8 14.2,-4.8 15.2,-4.3 15.9,-3 16.9,-1.2 17.8,.9 18.1,2.4 17.9,3.6 16.5,3.2 16,2 14,1.4 13.3,1.3 14.3,-.5 14.4,-1.3 13.5,-2.4 12.6,-1.9 12.5,-2.4 11.5,-2.8"],
['Gabon',"11.3,2.3 13.3,2.2 14,1.4 13.3,1.3 14.3,-.5 14.4,-1.3 13.5,-2.4 12.6,-1.9 12.5,-2.4 11.5,-2.8 11.1,-4 9.4,-2.1 8.8,-.8 9.3,.3 9.6,1 11.3,1"],
['Equatorial Guinea',"9.6,1 11.3,1 11.3,2.3 9.8,2.3"],
['Cameroon',"14.5,12.9 14.9,10.9 15.4,9.9 13.9,9.5 15.3,7.4 14.5,6.2 14.4,4.7 15.1,3.9 16,2 14,1.4 13.3,2.2 11.3,2.3 9.8,2.3 9.8,3.1 8.5,4.8 8.8,5.5 9.2,6.4 10.1,7 11.1,6.6 11.7,6.9 12.1,7.8 12.8,8.7 13.2,9.6 13.6,10.8 14.4,11.6 14.2,12.5"],
['Central African Republic',"15.3,7.4 16.7,7.5 18.8,9 20.1,9 21.7,10.6 22.9,11.4 23.9,10.1 24,8.7 25.1,7.5 26.4,6.6 27.4,5.2 26.4,5.1 25.1,5 23.3,4.6 22.4,4 20.9,4.3 19.5,5 18.5,4.2 18.5,3.5 17.9,3.6 16.5,3.2 16,2 15.1,3.9 14.4,4.7 14.5,6.2"],
['Nigeria',"2.7,6.3 2.8,9 3.6,10.3 3.6,11.7 3.7,13.3 5.4,13.9 6.8,13.1 7.8,13.3 9,12.8 10.7,13.2 12.3,13.1 13.1,13.6 14.2,12.5 14.4,11.6 13.6,10.8 13.2,9.6 12.8,8.7 12.1,7.8 11.7,6.9 11.1,6.6 10.1,7 9.2,6.4 8.8,5.5 8.5,4.8 7,4.4 6,4.3 5.4,5.1 4.3,6.3"],
['Benin',"1.9,6.1 2.7,6.3 2.8,9 3.6,10.3 3.6,11.7 2.8,12.2 2.2,12.5 1,11.1 1.4,9.5 1.6,6.8"],
['Togo',"1.2,6.1 1.9,6.1 1.6,6.8 1.4,9.5 1,11.1 0,11 .5,8.7 .5,7.4"],
['Ghana',"-3,5 -2,4.7 1.2,6.1 .5,7.4 .5,8.7 0,11 -2.9,11 -2.8,9.6 -2.5,8.2 -3.2,6.3"],
['Burkina Faso',"-5.4,10.4 -3,9.9 -2.8,9.6 -2.9,11 0,11 1,11.1 2.2,12.5 1,13.3 .4,14 .4,15 -.3,14.9 -2,14.6 -3.1,13.5 -4.3,13.2 -5.2,11.4"],
['Ivory Coast',"-8,4.4 -5.8,5 -3,5 -3.2,6.3 -2.5,8.2 -2.8,9.6 -3,9.9 -5.4,10.4 -6,10.1 -7.9,10.3 -8.3,9.8 -7.8,8 -8.5,7.7 -7.5,5.5"],
['Liberia',"-11.4,6.9 -9.8,5.5 -8,4.4 -7.5,5.5 -8.5,7.7 -8.8,7.7 -9.5,7.4 -10.2,8.4 -10.6,8"],
['Sierra Leone',"-13.2,8.9 -12.9,7.8 -11.4,6.9 -10.6,8 -10.2,8.4 -10.5,9.3 -11.1,10 -12.1,9.9"],
['Guinea',"-15,11 -13.7,9.5 -13.2,8.9 -12.1,9.9 -11.1,10 -10.5,9.3 -10.2,8.4 -9.5,7.4 -8.8,7.7 -7.8,8 -8.3,9.8 -7.9,10.3 -8.3,11 -8.8,12.1 -9.7,12.2 -11.4,12.4 -13.7,12.6 -13.7,11.8"],
['Guinea-Bissau',"-16.7,12.4 -15,11 -13.7,11.8 -13.7,12.6"],
['Senegal',"-16.5,16.1 -14.6,16.6 -12.2,14.8 -11.5,13.1 -11.4,12.4 -13.7,12.6 -16.7,12.4 -16.8,13.6 -17.6,14.7"],
['Gambia',"-16.8,13.6 -14.5,13.7 -14.5,13.2 -16.8,13.2"],
['Angola',"12.3,-6.1 13.4,-5.9 16.3,-5.9 16.9,-7.2 17.5,-8.1 19,-8 19.4,-7.2 21.7,-7.3 21.9,-9.5 22.2,-11.1 23.9,-10.9 24,-13 22,-13 22,-16.2 23.2,-17.5 21.4,-17.9 18.5,-17.4 14.2,-17.4 13.5,-17 11.7,-17.3 12.2,-14.4 13.7,-11.3 12.9,-9.2 13.2,-8.6"],
['Zambia',"23.9,-10.9 25.4,-11.3 26,-11.9 28.2,-12.3 29.6,-13.3 29.6,-12.2 28.4,-12.3 28.6,-9.8 28.7,-8.5 30.7,-8.3 31.2,-8.6 32.8,-9.2 33.7,-9.4 33,-11 33.3,-12.4 32.7,-13.7 33.2,-14 30.2,-15 30.3,-15.5 28.9,-16 27.6,-17.3 25.3,-17.7 23.2,-17.5 22,-16.2 22,-13 24,-13"],
['Malawi',"33.7,-9.4 34.3,-9.7 35,-11.6 34.6,-13.6 35.7,-14.6 35.8,-16 35.3,-17.1 34.4,-16.2 34.3,-15.5 33.2,-14 32.7,-13.7 33.3,-12.4 33,-11"],
['Mozambique',"40.3,-10.3 40.8,-14.7 40.1,-16.1 37.4,-17.6 36.3,-18.7 34.8,-19.8 35.4,-22.1 35.6,-24 32.9,-25.5 32.8,-26.7 32.1,-26.7 31.9,-25.9 32,-24.5 31.2,-22.3 32.2,-21.1 32.7,-19 33,-16.9 30.3,-15.5 30.2,-15 33.2,-14 34.3,-15.5 34.4,-16.2 35.3,-17.1 35.8,-16 35.7,-14.6 34.6,-13.6 35,-11.6 36.6,-11.7 38.4,-11.3"],
['Zimbabwe',"25.3,-17.7 27.6,-17.3 28.9,-16 30.3,-15.5 33,-16.9 32.7,-19 32.2,-21.1 31.2,-22.3 29.4,-22.1 28,-21.5 26,-19.3 25.7,-18.5"],
['Namibia',"11.7,-17.3 13.5,-17 14.2,-17.4 18.5,-17.4 21.4,-17.9 23.2,-17.5 25.3,-17.7 23.3,-18.3 21,-18.3 21,-22 20,-22 20,-28.4 19,-29 17,-28.9 16.3,-28.6 15.2,-27 14.4,-23 13.4,-20.9"],
['Botswana',"20,-22 21,-22 21,-18.3 23.3,-18.3 25.3,-17.7 25.7,-18.5 26,-19.3 28,-21.5 29.4,-22.1 27,-23.7 25.7,-25.5 23.3,-25.3 22.8,-25.5 21.6,-26.7 20.9,-26.8 20,-24.8"],
['South Africa',"16.3,-28.6 17,-28.9 19,-29 20,-28.4 20,-24.8 20.9,-26.8 21.6,-26.7 22.8,-25.5 23.3,-25.3 25.7,-25.5 27,-23.7 29.4,-22.1 31.2,-22.3 32,-24.5 31.9,-25.9 31,-25.7 30.7,-26.4 31.3,-27.3 32.1,-26.7 32.8,-26.7 32.5,-28.3 31.3,-29.4 30,-31.3 28.2,-32.8 26.4,-33.6 25.8,-34 22.6,-34 20,-34.8 18.4,-34 18.3,-32 17,-29.9"],
['Lesotho',"29,-29 29.3,-29.3 29.3,-30 28.1,-30.5 27,-29.9 27.5,-29.2 28.5,-28.6"],
['Swaziland',"31,-25.7 32,-26 31.9,-27 31.3,-27.3 30.7,-26.4"],
['Madagascar',"49.5,-12.5 50.5,-15.4 49.5,-17.1 49.5,-18 48.4,-21 47.1,-24.9 45.4,-25.6 44,-25 43.3,-22.1 44.4,-20.1 44,-17.4 44.4,-16.2 46.3,-15.8 48,-14"]
]

const asia = [
['Russia',
"31.1,69.6 33.8,69.3 36.5,69.1 40.3,67.9 41.1,66.8 38.4,66 33.9,66.8 34.8,65.9 34.9,64.4 37,63.8 37.1,65.1 39.6,64.5 39.8,65.5 42.1,66.5 44,66.1 44.2,68 43.5,68.6 46.3,68.2 45.6,67 47,66.9 47.9,67.6 53.7,68.9 53.5,68.2 57.3,68.5 60,68.3 61.1,68.9 60,69.5 64.9,69.2 68.5,68.1 69.2,68.6 67,69.6 66.7,71 68.5,71.9 69.9,73 72.6,72.8 71.8,71.4 72.8,70.4 72.6,69 73.7,68.4 71.3,66.3 73.9,67 74.9,69 73.6,69.6 74.4,70.6 73.1,71.4 74.9,72.1 75,72.9 78,72.4 81.5,71.8 80.5,73.6 87,73.9 87.2,75.1 92.9,75.8 98.9,76.4 101,76.9 104.4,77.7 106.1,77.4 107,76.5 113.3,76.2 109.4,74.2 113.5,73.3 115.6,73.8 119,73.1 123.2,73 126.9,73.6 128.6,73 129.7,71.2 131.3,70.8 132.3,71.8 135.6,71.7 139.9,71.5 139.1,72.4 149.5,72.2 152.9,70.8 159,70.9 159.7,69.7 165.9,69.5 169.6,68.7 170.5,70.1 175.7,69.9 180,69 185,67.1 190,66 187.3,64.5 185,64.8 184,65.4 180,65 177.4,64.6 179.4,63 177.4,62.5 170.3,60 166.3,60 163.5,59.9 162,57.8 163,56.2 161.7,55.3 160,53.2 158.2,51.9 156.8,51 155.9,53 155.9,56.8 158.4,58.1 163.7,61.1 164.5,62.6 162.7,61.6 160.1,60.5 159.3,61.8 154.2,59.8 155,59.1 151.3,58.8 148.5,59.2 142.2,59 135.1,54.7 137.2,54 139.9,54.2 141.3,53.1 140.5,50 138.6,47 135.5,44 133.5,42.8 132.3,43.3 130.6,42.4 130.6,42.9 131.1,42.9 131.3,44.1 131,45 131.9,45.3 133.1,45.1 134.1,47.2 134.5,48.4 132.5,47.8 131,47.8 130.6,48.9 129.4,49.4 127.7,49.8 126.9,51.4 126,52.8 123.6,53.5 121,53.3 120.2,52.8 120.7,52.5 120.2,51.6 119.3,50.6 119.3,50.1 117.9,49.5 116.7,49.9 115.5,49.8 114.4,50.2 113,49.6 111.6,49.4 110.7,49.1 108.5,49.3 106.9,50.3 105.9,50.4 103.7,50.1 102.3,50.5 102.1,51.3 100,51.6 98.9,52 98.2,50.4 97.3,49.7 95.8,50 94.1,50.5 92.2,50.8 90.7,50.3 88.8,49.5 87.8,49.3 87.4,49.2 85.8,49.7 85.1,50.1 84.4,50.3 83.4,51 81.9,50.8 80.6,51.4 80,50.9 77.8,53.4 76.5,54.2 76.9,54.5 74.4,53.5 73.4,53.5 73.5,54 71.2,54.1 70.9,55.2 69.1,55.4 68.2,55 65.2,54.4 61.4,54 61,53.7 61.7,53 60.7,52.7 60.9,52.4 59.9,52 61.6,51.3 61.3,50.8 59.9,50.8 59.6,50.5 58.4,51.1 56.8,51 55.7,50.6 54.5,51 52.3,51.7 50.8,51.7 48.7,50.6 48.6,50 47.5,50.5 46.8,49.4 47,49 46.5,48.4 47.3,47.7 48,47.7 48.7,46.6 49.1,46.4 47.7,45.6 46.7,44.6 47.6,43.7 47.5,43 48.6,41.8 47.8,41.2 46.4,41.9 45.8,42.1 44.5,42.7 43.9,42.6 42.4,43.2 40.1,43.6 38.2,44.4 36.7,45.2 38.2,46.2 37.7,46.6 39.1,47.2 38.2,47.1 38.8,47.8 39.7,47.9 39.9,48.2 39.7,48.8 40.1,49.6 38,49.9 37.4,50.4 36.6,50.2 35.4,50.6 35,51.2 34.2,51.3 34.4,51.8 33.8,52.3 32.4,52.3 31.8,52.1 31.5,53.2 32.7,53.4 31.8,53.8 31.8,54.3 30.8,54.8 31,55.1 30.9,55.6 29.9,55.8 28.2,56.2 27.9,56.8 27.3,57.5 27.7,57.8 27.4,58.7 28.1,59.3 29.1,60 28.1,60.5 31.1,62.4 31.5,62.9 30,63.6 30.4,64.2 29.5,64.9 30,65.7 29.1,66.9 30.2,67.7 28.4,68.4 28.6,69.1 29.4,69.2",
"142.7,54.4 143.2,52.7 143.6,49.3 144.7,49 143,47 142,46 142,48 141.9,50.9 141.7,53.3",
"55.4,70.6 51.5,71.5 53.7,73.3 55.9,74.6 57.9,75.6 61.2,76.3 68.2,76.9 68.9,76.5 64.6,75.7 58.5,74.3 56.9,73.3 55.6,72.4",
"91,79.5 96,79 100,78.8 105,78.3 99.5,77.9 93,78.8","95,81 100,80 94,80","137,75.4 140,74.7 143,75.8 139,76.1","146,75.4 150,75.1 147,74.8","178.6,71.1 181,71.5 182.5,71 180,70.9","48,80.8 52,80.3 58,80.4 64,81 56,81.4","52,79.9 56,80 55,80.3"],
['Kazakhstan',"87.4,49.2 85.8,49.7 85.1,50.1 84.4,50.3 83.4,51 81.9,50.8 80.6,51.4 80,50.9 77.8,53.4 76.5,54.2 76.9,54.5 74.4,53.5 73.4,53.5 73.5,54 71.2,54.1 70.9,55.2 69.1,55.4 68.2,55 65.2,54.4 61.4,54 61,53.7 61.7,53 60.7,52.7 60.9,52.4 59.9,52 61.6,51.3 61.3,50.8 59.9,50.8 59.6,50.5 58.4,51.1 56.8,51 55.7,50.6 54.5,51 52.3,51.7 50.8,51.7 48.7,50.6 48.6,50 47.5,50.5 46.8,49.4 47,49 46.5,48.4 47.3,47.7 48,47.7 48.7,46.6 49.1,46.4 51.2,47 53,46.9 53,46.3 53.2,45.3 51.3,45.2 51,44.5 50.3,44.3 50.9,44 51.3,43.1 52.5,42.8 52.5,41.8 52.9,42.1 54.7,42 55.5,42 56,45 58.6,45.6 61.1,44.4 62,43.5 64.9,43.7 66.1,43 66,42 66.5,42 66.7,41.2 68,41.1 68.3,40.7 69,41.4 70.4,42.1 71,42.3 71.8,42.8 73.5,42.5 73.6,43.1 75,42.9 79.6,42.5 80.3,42.3 80.2,42.9 80.9,43.2 80,44.9 81.9,45.3 83.2,47.3 85.2,47 85.7,47.5 85.5,48.1 85.8,48.4 86.6,48.5"],
['Uzbekistan',"56,41.3 55.5,42 56,45 58.6,45.6 61.1,44.4 62,43.5 64.9,43.7 66.1,43 66,42 66.5,42 66.7,41.2 68,41.1 68.3,40.7 69,41.4 70.4,42.1 71,42.3 70.4,41.5 71.8,41.4 73,40.9 71.8,40.1 70.6,40.2 70.5,41 69.3,40.7 69,40.1 68.5,39.5 67.7,39.6 67.4,39.1 68.2,38.9 68.4,38.2 67.8,37.1 67.1,37.4 66.5,37.4 66.5,38 64.2,38.9 63.5,39.4 62.4,40 61.9,41.1 60.5,41.2 60,42.2 58.6,42.8 57.8,42.2 56.9,41.8"],
['Kyrgyzstan',"71,42.3 71.8,42.8 73.5,42.5 73.6,43.1 75,42.9 79.6,42.5 80.3,42.3 80.1,42.1 78.2,41.2 76.9,41.1 76.5,40.4 74.8,40.4 73.9,39.7 71.8,39.5 70.6,40.2 71.8,40.1 73,40.9 71.8,41.4 70.4,41.5"],
['Tajikistan',"70.6,40.2 71.8,39.5 73.9,39.7 73.7,39.4 74,38.5 75,37.4 74,36.9 71.4,37.1 71.5,37.9 71.2,37.9 71.3,38.3 70.3,38.1 70.1,37.6 69.5,37.6 69.2,37.2 68.1,37 67.8,37.1 68.4,38.2 68.2,38.9 67.4,39.1 67.7,39.6 68.5,39.5 69,40.1 69.3,40.7 70.5,41"],
['Turkmenistan',"52.5,41.8 52.9,42.1 54.7,42 55.5,42 56,41.3 56.9,41.8 57.8,42.2 58.6,42.8 60,42.2 60.5,41.2 61.9,41.1 62.4,40 63.5,39.4 64.2,38.9 66.5,38 66.5,37.4 64.5,36.3 63.2,35.9 62.2,35.3 61.2,35.7 61.2,36.5 60.4,36.5 59.2,37.4 57.3,38 56.2,38.1 54,37.4 53.9,39 53.1,39.3 53.4,40 52.7,40 52.9,41"],
['Afghanistan',"66.5,37.4 67.1,37.4 67.8,37.1 68.1,37 69.2,37.2 69.5,37.6 70.1,37.6 70.3,38.1 71.3,38.3 71.2,37.9 71.5,37.9 71.4,37.1 74,36.9 74.6,37 71.8,36.5 71.2,36.1 71.6,35.2 71.1,34.7 71.2,34.3 70,34 69.9,33.6 69.3,32.9 69.3,31.9 68,31.3 66.9,31.3 66.3,30.8 66.4,30 64.1,29.4 62.5,29.3 60.9,29.8 61.7,30.7 61.7,31.4 60.9,31.5 60.9,32 60.6,33.5 60.5,34 61.2,35.7 62.2,35.3 63.2,35.9 64.5,36.3"],
['Pakistan',"74.6,37 75.2,37 75.9,36.7 77.8,35.5 76.9,34.7 76.9,34.4 75.7,34.5 74.2,33.4 74.4,33 74.4,31.7 74.9,31.7 73.5,29.9 72.8,29 71.8,27.9 70.2,27.8 69.5,26.7 70.2,26.5 70.3,25.7 71,24.4 69.5,24.3 68.8,24.3 68.2,23.7 67.4,24 66.4,25.4 64.5,25.2 61.5,25.1 61.8,26.2 63.3,27.2 62.5,29.3 64.1,29.4 66.4,30 66.3,30.8 66.9,31.3 68,31.3 69.3,31.9 69.3,32.9 69.9,33.6 70,34 71.2,34.3 71.1,34.7 71.6,35.2 71.2,36.1 71.8,36.5"],
['India',"77.8,35.5 78.9,34.3 78.8,33.5 79.2,32.5 79.2,32 78.5,32.6 78.7,31.5 81.1,30.2 80.5,29.7 80.1,28.8 81.1,28.4 83.3,27.4 84.7,27.2 85.3,26.7 86,26.6 88.1,26.4 88.2,26.8 88.1,27.9 88.7,28.1 88.8,27.1 89.7,26.7 92,26.8 92,27.5 91.7,27.8 92.5,27.9 93.4,28.6 94.6,29.3 95.4,29 96.1,29.5 96.6,28.8 96.2,28.4 97.3,28.3 97.4,27.9 97,27.7 97.1,27.1 96.4,27.3 95.1,26.6 95.2,26 94.6,25.2 94.6,24.7 94.1,23.9 93.3,24.1 93.3,23 93.1,22.7 93.2,22.3 92.7,22 92.1,23.6 91.7,23 91.2,23.5 91.7,24.1 92.4,25 90.9,25.1 89.9,25.3 89.8,26 89.4,26 88.6,26.4 88.2,25.8 88.9,25.2 88.3,24.9 88.1,24.5 88.7,24.2 88.5,23.6 89,22.9 89,22.1 88.9,21.7 87,21.5 86.5,20 85.1,19.5 82.2,16.6 80.3,15.9 80.3,15 80,12 79.9,10.4 78.9,9.5 79.2,9.2 78.3,8.9 77.5,8 76.6,8.9 75.7,11.3 74.6,14 73.5,16 72.8,19.2 72.6,21.4 71.2,20.8 70.5,20.9 69.2,22.1 70.5,23 68.8,24.3 69.5,24.3 71,24.4 70.3,25.7 70.2,26.5 69.5,26.7 70.2,27.8 71.8,27.9 72.8,29 73.5,29.9 74.9,31.7 74.4,31.7 74.4,33 74.2,33.4 75.7,34.5 76.9,34.4 76.9,34.7"],
['Sri Lanka',"80,9.8 81.2,8.7 81.8,7.5 81.2,6.2 80.3,6 79.9,7.4"],
['Nepal',"88.1,27.9 88.2,26.8 88.1,26.4 86,26.6 85.3,26.7 84.7,27.2 83.3,27.4 81.1,28.4 80.1,28.8 80.5,29.7 81.1,30.2 82.3,30.1 83.3,29.5 84.2,28.8 85,28.6 86,28 87.3,27.9"],
['Bhutan',"88.8,27.1 88.7,28.1 89.7,28.1 91.7,27.8 92,27.5 92,26.8 89.7,26.7"],
['Bangladesh',"92.7,22 92.1,23.6 91.7,23 91.2,23.5 91.7,24.1 92.4,25 90.9,25.1 89.9,25.3 89.8,26 89.4,26 88.6,26.4 88.2,25.8 88.9,25.2 88.3,24.9 88.1,24.5 88.7,24.2 88.5,23.6 89,22.9 89,22.1 90.5,22.8 91.4,22.8 92,21.7"],
['Myanmar',"97.3,28.3 98.2,27.7 98.7,27.5 98.7,26.7 97.7,25.1 97.6,24.1 99,23.2 99.5,22.9 99.2,22.1 100,21.7 101.2,21.4 100.1,20.4 99.5,20.2 98.3,19.7 97.4,18.4 98.5,17.6 98.9,16.2 98.5,15.3 99.2,13.3 99.1,10.9 98.6,10 98.7,11.4 98.4,12 98.4,14.5 97.6,16.1 97.2,17 95.4,15.7 94.2,16 94.3,18.2 93.5,19.4 92.3,21.5 92.7,22 93.2,22.3 93.1,22.7 93.3,23 93.3,24.1 94.1,23.9 94.6,24.7 94.6,25.2 95.2,26 95.1,26.6 96.4,27.3 97.1,27.1 97,27.7 97.4,27.9"],
['Thailand',"100.1,20.4 100.5,19.5 101.3,19.5 101,17.5 102.1,18.1 103,18 103.2,18.3 104.7,17.4 104.8,16.4 105.6,15.6 105.5,14.6 103.7,14.3 102.9,14.2 102.3,13.4 102.6,12.2 101.7,12.6 100.8,12.6 101,13.4 100.1,13.4 99.2,12.8 99.2,10 100.3,8.3 100.6,7.2 102,6.2 101.8,5.8 101.2,5.7 101.1,6.2 100.1,6.5 99,7.9 98.3,8 98.2,9 98.6,10 99.1,10.9 99.2,13.3 98.5,15.3 98.9,16.2 98.5,17.6 97.4,18.4 98.3,19.7 99.5,20.2"],
['Laos',"102.2,22.5 102.7,21.7 103.2,20.8 104.4,20.8 104.8,19.9 104.2,19.6 105.6,18.6 106.6,17 107.4,16.7 107.6,15.2 107.4,14.2 106.5,14.6 105.5,14.6 105.6,15.6 104.8,16.4 104.7,17.4 103.2,18.3 103,18 102.1,18.1 101,17.5 101.3,19.5 100.5,19.5 100.1,20.4 101.2,21.4 101.8,21.2 101.7,22.3"],
['Vietnam',"102.2,22.5 103.2,22.3 105.3,23.4 106.7,22.8 106.6,22.2 107,21.8 108,21.6 106.7,20.7 105.9,19.8 105.7,19 106.9,17.5 108.3,16.1 109.3,13.4 109.2,11.7 107.2,10.4 106.4,9.5 105.2,8.6 104.8,8.6 105,9.9 104.3,10.5 105.2,10.9 106.2,11 105.8,11.6 107.5,12.3 107.4,14.2 107.6,15.2 107.4,16.7 106.6,17 105.6,18.6 104.2,19.6 104.8,19.9 104.4,20.8 103.2,20.8 102.7,21.7"],
['Cambodia',"102.6,12.2 102.3,13.4 102.9,14.2 103.7,14.3 105.5,14.6 106.5,14.6 107.4,14.2 107.5,12.3 105.8,11.6 106.2,11 105.2,10.9 104.3,10.5 103.5,10.6 103.1,11.2"],
['Malaysia',"100.1,6.5 101.1,6.2 101.2,5.7 101.8,5.8 102,6.2 103.4,4.9 103.3,3.7 103.5,2.8 104.2,1.3 103.5,1.2 101.4,2.8 100.7,3.9 100.4,5.6","109.7,2 111.2,2.7 113,3.1 114.2,4.5 115.5,5.4 116.7,7 119.2,5.4 117.9,4.1 117,4.3 115.9,4.3 115.5,3.2 114.6,1.4 113.8,1.2 112.9,1.5 111.8,1 110.5,.8 109.8,1.3"],
['Indonesia',"117,4.3 117.9,4.1 117.6,3.1 118,2.3 119,1 117.5,.1 117.5,-.8 116.5,-1.5 116.5,-3 115.9,-4 114.9,-4.1 114.5,-3.5 113.3,-3.1 111.7,-3 110.2,-2.9 110.1,-1.6 109.1,-.5 109,.4 109.7,2 109.8,1.3 110.5,.8 111.8,1 112.9,1.5 113.8,1.2 114.6,1.4 115.5,3.2 115.9,4.3",
"95.3,5.5 97.5,5.2 100.3,2.6 101.7,2.1 103.8,.1 103.4,-.7 104.5,-1.8 106.1,-3.1 105.9,-5.9 104.7,-5.9 102.6,-4.2 101.4,-2.8 100.1,-.7 98.6,1.8 97.7,2.5 95.4,5",
"105.4,-6.9 106.1,-5.9 108.5,-6.4 110.5,-6.9 112.6,-6.9 114.6,-7.8 114.6,-8.7 110.6,-8.1 108.3,-7.8 106.5,-7.4",
"125,1.6 123.6,.9 121,1 120,.6 119.8,-.1 119.3,-1.3 118.8,-2.6 119.5,-3.5 119.5,-5.4 120.4,-5.5 120.4,-3 121,-2.6 121.5,-4.2 122.9,-4.7 122,-3 121.5,-1.9 123.3,-1 122,-.9 121,-1.4 120.3,0 121,.5 123.5,.3 124.6,.4",
"141,-2.6 139.2,-2.1 137.4,-1.7 135.5,-3.4 133.8,-2.4 135,-1.3 132.2,-.8 131,-.8 132.4,-2.2 133.9,-2.4 132.8,-4 134.1,-4.8 135.2,-4.5 137.9,-5.4 138.6,-7.4 138.7,-8.2 140,-8.1 141,-9.1",
"119.9,-8.4 123,-8.2 122.8,-8.7 120.4,-8.9","117,-8.5 119,-8.3 119,-8.9 116.8,-9","119.2,-9.4 120.8,-9.9 120.2,-10.2","123.6,-10.4 125,-9 127.3,-8.4 125,-9.4 124,-10.3","127.9,2.2 128.6,1.5 128.6,.3 127.7,-.8 127.4,1","127.9,-3.2 130.8,-3.1 130,-3.6 128,-3.5","126,-3.2 127.2,-3.4 126.5,-3.8","115,-8.2 115.7,-8.4 115.2,-8.8","116,-8.3 116.7,-8.4 116.3,-8.9","105.9,-2 106.8,-3 106,-3","107.6,-2.6 108.3,-3 107.7,-3.2","122.9,-4.2 123.2,-5.3 122.6,-5.2"],
['Philippines',"120.8,18.5 122.3,18.2 122.2,16.3 121.7,15.9 121.7,14.3 124,13 122.9,13.6 121.1,13.6 120.6,14.4 120,15.4 120.3,16 120.4,17.6","126.4,8.4 126.6,7.2 126.2,6.3 125.4,5.6 125.4,6.8 124.2,6.2 124,7.4 123.6,7.8 122,7 123,8.2 123.8,8.7 125.4,9","125.3,12.5 125.7,11.2 124.9,11.4 124.3,12.5","124.8,11.2 125,10.2 124.4,10.7","122,11.8 123.1,11.5 122.6,10.7 122,10.7","123.2,10.9 123.5,9.5 122.5,9.9","120.4,13.3 121.5,13 121.2,12.3","119.5,11.3 118.1,9.3 117.3,8.4 118.8,10.3"],
['Taiwan',"121.8,25 121,22.9 120.7,22 120.1,23.6 121.5,25.3"],
['China',"131,45 131.3,44.1 131.1,42.9 130.6,42.9 130.6,42.4 129.7,42.4 128,42 128,41.5 126.9,41.8 125.9,40.9 124.3,40 122,40.3 121.4,40.9 121.1,38.9 118,39.2 119,37.4 121,37.7 122.5,37 120.7,36.1 119.3,35 120.4,34.2 120.9,33 121.9,31.7 121.3,30.7 122.1,29.8 121,28.1 119.6,25.7 118,24.4 116.5,23 113.8,22.5 110.8,21.4 110.4,20.3 109.6,21 108.5,21.7 108,21.6 107,21.8 106.6,22.2 106.7,22.8 105.3,23.4 103.2,22.3 102.2,22.5 101.7,22.3 101.8,21.2 101.2,21.4 100,21.7 99.2,22.1 99.5,22.9 99,23.2 97.6,24.1 97.7,25.1 98.7,26.7 98.7,27.5 98.2,27.7 97.3,28.3 96.2,28.4 96.6,28.8 96.1,29.5 95.4,29 94.6,29.3 93.4,28.6 92.5,27.9 91.7,27.8 89.7,28.1 88.7,28.1 88.1,27.9 87.3,27.9 86,28 85,28.6 84.2,28.8 83.3,29.5 82.3,30.1 81.1,30.2 78.7,31.5 78.5,32.6 79.2,32 79.2,32.5 78.8,33.5 78.9,34.3 77.8,35.5 75.9,36.7 75.2,37 75,37.4 74,38.5 73.7,39.4 73.9,39.7 74.8,40.4 76.5,40.4 76.9,41.1 78.2,41.2 80.1,42.1 80.3,42.3 80.2,42.9 80.9,43.2 80,44.9 81.9,45.3 83.2,47.3 85.2,47 85.7,47.5 85.5,48.1 85.8,48.4 86.6,48.5 87.4,49.2 87.8,49.3 88,48.6 89.7,47.8 90.3,47.7 91,46.9 90.3,46 91,45.3 93.5,45 95.3,44.2 97.9,43 101.6,42.5 105,41.6 107.5,42.5 109.2,42.5 111.8,43.7 111.7,45 113.6,44.8 116,45.7 117.4,46.7 119.8,46.7 119.9,47 119,47.3 116.2,47.9 115.5,47.8 116.7,49.9 117.9,49.5 119.3,50.1 119.3,50.6 120.2,51.6 120.7,52.5 120.2,52.8 121,53.3 123.6,53.5 126,52.8 126.9,51.4 127.7,49.8 129.4,49.4 130.6,48.9 131,47.8 132.5,47.8 134.5,48.4 134.1,47.2 133.1,45.1 131.9,45.3","108.7,19.3 110.4,20.1 111,19.7 110.5,18.8 109.5,18.2 108.6,18.5"],
['Mongolia',"87.8,49.3 88.8,49.5 90.7,50.3 92.2,50.8 94.1,50.5 95.8,50 97.3,49.7 98.2,50.4 98.9,52 100,51.6 102.1,51.3 102.3,50.5 103.7,50.1 105.9,50.4 106.9,50.3 108.5,49.3 110.7,49.1 111.6,49.4 113,49.6 114.4,50.2 115.5,49.8 116.7,49.9 115.5,47.8 116.2,47.9 119,47.3 119.9,47 119.8,46.7 117.4,46.7 116,45.7 113.6,44.8 111.7,45 111.8,43.7 109.2,42.5 107.5,42.5 105,41.6 101.6,42.5 97.9,43 95.3,44.2 93.5,45 91,45.3 90.3,46 91,46.9 90.3,47.7 89.7,47.8 88,48.6"],
['North Korea',"130.6,42.4 129.7,42.4 128,42 128,41.5 126.9,41.8 125.9,40.9 124.3,40 125.2,39.5 125.3,38.7 125,38 126.7,37.8 127.8,38.3 128.3,38.6 127.5,39.3 129.5,40.9 129.7,41.6"],
['South Korea',"126.7,37.8 126.2,36.7 126.5,34.4 128.3,34.9 129.4,35.2 129.4,37 128.3,38.6 127.8,38.3"],
['Japan',"141.4,41.4 141.9,39.2 140.9,38.2 141,37.1 140.8,35.8 139.9,35 138.8,35 137.2,34.6 135.8,33.5 135.1,33.9 135.1,34.6 132.8,34.2 130.9,34 132,35.3 133.2,35.6 135.7,35.5 136.7,36.7 137.4,37.4 138.6,37.8 139.4,38.2 140.1,39.4 140,40.6 140.3,41.2","141.4,43.4 141.9,45.5 143.9,44.2 145.3,44.4 145.5,43.3 143.9,42.9 143.2,42 141.6,42.6 140.3,41.6 140.3,43.3","130.6,33.9 131.9,33 131.3,31.4 130.2,31.3 130,33","134.6,34.2 134.2,33.2 133,32.7 132.4,33.5"],
['Georgia',"41.6,41.5 43.6,41.1 45,41.3 46.4,41.9 45.8,42.1 44.5,42.7 43.9,42.6 42.4,43.2 40.1,43.6 41.6,42.5"],
['Armenia',"43.6,41.1 45,41.3 45.2,40.9 46.5,39.5 46.5,38.9 44.8,39.7 43.9,40"],
['Azerbaijan',"45,41.3 46.4,41.9 47.8,41.2 48.6,41.8 49.6,40.6 50.1,40.5 49.2,39.1 48.9,38.4 48,39.6 46.5,38.9 46.5,39.5 45.2,40.9"],
['Turkey',"26.1,41.8 28,42 29.1,41.2 31.1,41.1 33.5,42 35.2,42 38.3,41 40.4,41 41.6,41.5 43.6,41.1 43.9,40 44.8,39.7 44.3,37.9 44.8,37.2 42.8,37.4 40.7,37.1 36.9,36.8 36.2,36.6 35.6,36.6 34,36.2 32.5,36.1 30.6,36.7 29.7,36.1 27.6,36.7 26.3,38.2 26.2,39.5 26.2,40 26.7,40.4 26,40.8"],
['Iran',"44.8,39.7 46.5,38.9 48,39.6 48.9,38.4 49.2,37.6 51,36.8 53.9,36.9 54,37.4 56.2,38.1 57.3,38 59.2,37.4 60.4,36.5 61.2,36.5 61.2,35.7 60.5,34 60.6,33.5 60.9,32 60.9,31.5 61.7,31.4 61.7,30.7 60.9,29.8 62.5,29.3 63.3,27.2 61.8,26.2 61.5,25.1 59,25.4 57.4,25.7 56.9,27.1 55.7,26.9 54.7,26.5 52.5,27.6 50.9,28.8 50.1,30.1 49,30.3 48.6,30 48,30.5 47.7,31 47.8,32 46.1,33 45.4,34 45.6,34.7 46.1,35.1 45.4,36 44.8,37.2 44.3,37.9"],
['Iraq',"44.8,37.2 45.4,36 46.1,35.1 45.6,34.7 45.4,34 46.1,33 47.8,32 47.7,31 48,30.5 48.6,30 48,30 47.3,30.1 46.6,29.1 44.7,29.2 41.9,31.2 40.4,31.9 39.2,32.2 38.8,33.4 41,34.4 41.4,36 42.3,37.2 42.8,37.4"],
['Syria',"35.7,36 36.2,36.6 36.9,36.8 40.7,37.1 42.8,37.4 42.3,37.2 41.4,36 41,34.4 38.8,33.4 36.8,32.3 35.7,32.7 35.8,33.3 36.6,34.2 35.9,34.6"],
['Lebanon',"35.1,33.1 35.8,33.3 36.6,34.2 35.9,34.6"],
['Israel',"34.3,31.2 34.9,29.5 35.5,31.4 35.7,32.7 35.8,33.3 35.1,33.1 34.7,32"],
['Jordan',"35.5,31.4 34.9,29.5 36.1,29.2 37.5,30 38,30.5 37,31.5 39.2,32.2 38.8,33.4 36.8,32.3 35.7,32.7"],
['Saudi Arabia',"34.9,29.4 36.1,29.2 37.5,30 38,30.5 37,31.5 39.2,32.2 40.4,31.9 41.9,31.2 44.7,29.2 46.6,29.1 47.5,29 48.4,28.6 48.8,27.7 50.2,26.7 50.1,25.9 50.8,24.8 51.6,24.2 52,23 55,22.7 55.7,22 55,20 52,19 49.1,18.6 48.2,18.2 47,16.9 46.7,17.3 43.8,17.3 43.4,17.6 42.8,16.3 42.3,17.1 41.8,17.8 40.9,19.5 39.1,21.3 39,22 38.5,23.7 37.5,24.3 36.9,25.6 35.1,28.1 34.6,28.1"],
['Yemen',"42.8,16.3 43.4,17.6 43.8,17.3 46.7,17.3 47,16.9 48.2,18.2 49.1,18.6 52,19 53.1,16.6 51.2,15.2 48.7,14 47.4,13.6 45,12.7 43.5,12.6 43.2,13.2 43,14.5"],
['Oman',"52,19 55,20 55.7,22 55.2,22.7 56,24 56.4,24.9 57.4,23.9 58.7,23.6 59.8,22.5 58.5,20.4 57.7,19.7 57.8,18.9 56.6,18.6 55.3,17.2 53.1,16.6"],
['UAE',"51.6,24.2 52,23 55,22.7 55.2,22.7 56,24 56.4,24.9 56.3,25.8 55.4,25.4 54,24.1"],
['Qatar',"50.8,24.8 51.3,26.1 51.6,25 51.6,24.2"],
['Kuwait',"48,30 48.4,28.6 46.6,29.1 47.3,30.1"]
]

const oceania = [
['Australia',"142.5,-10.7 143.6,-12.8 145.3,-14.9 145.9,-16.9 146.2,-18.9 148.8,-20.4 150,-22.1 150.9,-23.5 153.1,-25.9 153.6,-28.1 153,-31 152.6,-32.6 151,-34 150,-37.4 148,-37.9 146.3,-39 144.9,-38.4 143.6,-38.8 140.6,-38 139.6,-36.1 138.1,-35.6 138.6,-34.8 138,-33 137.8,-32.6 137,-33.7 136,-34.9 135.2,-34.5 134.3,-33 131.3,-31.5 129,-31.7 126.1,-32.2 123.7,-33.9 120.6,-34 118,-35.1 115.9,-34.4 115,-34.2 115.7,-33.3 115.7,-31.6 115,-29.5 114.2,-26.3 113.4,-26.1 113.8,-24.4 113.8,-22.5 114.6,-21.8 116.7,-20.7 118.8,-20.3 120.8,-19.7 122.2,-18.2 122.3,-17.3 123.4,-17.3 123.9,-16.3 125.7,-14.5 126.1,-14.1 127.8,-14.3 128.4,-14.9 129.6,-15 129.9,-13.6 130.6,-12.5 132.6,-12.1 131.8,-11.3 135.3,-12.2 136.9,-12.4 135.5,-15 137.1,-15.9 139.3,-17.4 140.2,-17.7 141.1,-16 141.7,-14.3 141.5,-12.9 142,-11.3","145.4,-40.8 148.3,-40.9 148.4,-42 147.9,-43.2 146.9,-43.6 145.4,-42.7"],
['New Zealand',"172.7,-34.4 174.3,-35.3 175.9,-36.8 176.9,-37.9 178.5,-37.7 177.9,-39.3 176,-41.3 175.3,-41.7 174.7,-41.3 175.2,-40.4 173.8,-39.5 174.6,-38.8 174.7,-37.4","172.8,-40.5 174.3,-41.7 172.8,-43.8 171,-45.9 169.3,-46.6 166.7,-46.2 167,-45 170.5,-43 172,-41"],
['Papua New Guinea',"141,-2.6 144.6,-3.9 145.8,-5.5 147.6,-6 147.9,-6.6 147,-6.7 147.2,-7.4 148.1,-8 150.8,-10.3 149.7,-10.4 147.9,-10.1 146,-8.1 144.7,-7.6 143.3,-8.2 143.4,-9 142.6,-9.3 141,-9.1","148.3,-5.6 150,-5.5 152.2,-4.2 152.3,-5 150.8,-6.1 148.8,-6.2","150.8,-2.7 152.5,-3.8 153,-4.7 151.5,-3.4"],
['Solomon Islands',"156.5,-6.6 157.5,-7.3 156.9,-7.5","158.9,-7.6 160.5,-8.5 159.6,-8.4","160.5,-9.3 160.8,-9.9 159.8,-9.7","161,-8.4 161.5,-9.6 160.9,-9"],
['Vanuatu',"166.6,-15 167.2,-15.8 166.7,-15.7","167.2,-16 167.8,-16.4 167.2,-16.5"],
['New Caledonia',"164,-20.1 165.5,-21 167,-22.3 165.5,-21.7"],
['Fiji',"177.3,-17.4 178.6,-17.7 178,-18.3 177.3,-18.1","178.8,-16.5 180,-16.2 179,-16.9"]
]

const antarctica = [
['Antarctica',"-178,-76.5 -160,-77 -155,-76 -148,-75.6 -140,-75 -128,-74.6 -125,-74 -110,-74.3 -103,-73.4 -100,-72.2 -90,-73 -80,-72.5 -76,-71.6 -68,-68 -66,-66 -62,-63.8 -57.5,-63.3 -60,-65 -62.5,-67 -62,-70 -61,-74.3 -52,-77.5 -39,-77 -27,-75 -18,-73 -12,-70.5 -5,-71 0,-70 8,-70.4 15,-69.8 22,-70.3 28,-69.4 34,-69 40,-68.5 46,-67.5 53,-66.4 60,-67.5 70,-68.5 72,-70 78,-69.5 85,-67 92,-66.7 98,-65.7 105,-66 110,-66 118,-67 125,-66.5 130,-66 137,-66.8 144,-67 150,-68 156,-69.2 162,-70 171,-70.6 170,-72 167,-73 162.5,-75.5 165,-77.5 178,-76.5 180,-82.5 -180,-82.5"],
['Antarctic Islands',"-68,-70 -71,-69.5 -74,-71.5 -71,-72.5","-98,-72 -102,-71.8 -100,-72.8","-55.5,-61.2 -58,-61.8 -61,-62.8 -58,-62.5","-37.8,-54 -35.8,-54.6 -37.5,-54.9"]
]

// very small islands, shown as dots
const islets = [[-28,38.5],[-25.5,37.8],[-31,39.5],[-16.5,32.7],[-16.5,28.3],[-15.5,28],[-14,28.5],[-24,16],[-23.5,15],[-25,17],[-7,62],[-64.8,32.3],[-61,14.5],[-61.5,16.2],[-61.8,17.1],[-61,10.5],[-62.8,17.7],[-91,-.5],[-90,-1],[57.5,-20.3],[55.5,-21],[43.5,-12],[44.5,-12.3],[55.5,-4.6],[73,3],[73.3,5],[73,1],[-14.4,-7.9],[-5.7,-16],[-12.3,-37.1],[-9.9,-40.3],[70,-49.2],[69.5,-49.5],[51.8,-46.4],[77.5,-38.7],[-150,-17.5],[-149,-17.6],[-172,-13.7],[-170.7,-14.3],[-175,-21],[-110,-27],[-130,-25],[-140,-9],[-139,-9.8],[-80,-33.7],[-29,-20.5],[-37,-55],[-27,-57],[-26.5,-58.5],[92.8,12],[92.7,13],[93,8],[145.5,15],[144.8,13.5],[134.5,7.5],[138,9.5],[158,7],[163,5.3],[171,7],[169,-19.5],[169.5,-21],[168,-16.8],[167,-29],[159,-31.5],[172,-43.5],[178.5,-47],[-176.5,-44],[-160,21],[-172,52.2],[-176,51.9],[-178,51.7],[180,51.6],[-172,57],[-155,58],[-143,20],[-112,24],[-118,29],[-86,12],[-79.5,9],[-81.3,19.3],[-69.5,12.3],[-61,13.2],[-59.5,13.1],[-120,-.2],[-169,-19],[158,53.5],[152,46.5],[149,45.5],[146,44],[153,47.5],[130,24],[127.7,26.4],[129,28.3],[125,24.5],[131,-4.5],[134.5,-6],[131.5,-7.5],[128.5,-8],[132,-5.6],[140,-6.5],[-5,58.1],[-8,71],[-180,51.5],[-186,51.4]]

const allLand = [...northAmerica, ...southAmerica, ...europe, ...africa, ...asia, ...oceania, ...antarctica]
const unfilled = ['Iceland','Cuba','Italy','Portugal','Sri Lanka','Taiwan','Lesotho']

const LAND = '#dcdcdc'
const width = 3072
const height = 2654

const svg = d3.select('#chart')
    .append('svg')
    .attr('width', width)
    .attr('height', height)
    .style('display', 'block')

const defs = svg.append('defs')

const parseRing = (s) => {
    const pts = s.trim().split(/\s+/).map(p => p.split(',').map(Number))
    pts.push(pts[0])
    return pts
}

const features = allLand.map(d => ({
    type: 'Feature',
    properties: { name: d[0] },
    geometry: { type: 'MultiPolygon', coordinates: d.slice(1).map(r => [parseRing(r)]) }
}))

const lenScale = d3.scaleLinear().domain(robLat).range(robLen)
const depScale = d3.scaleLinear().domain(robLat).range(robDep)

// Robinson stretched to how the picture has it
const robinson = (cx, cy) => d3.geoTransform({
    point: function(lon, lat) {
        const a = Math.abs(lat)
        this.stream.point(cx + 4.16 * lenScale(a) * lon, cy - Math.sign(lat) * 378 * depScale(a))
    }
})

const drawBars = (o) => {
    const x = d3.scaleLinear().domain([0, 1200]).range([o.left, o.right])
    const y = d3.scaleBand().domain(o.categories).range([o.top, o.bottom]).paddingInner(.48).paddingOuter(.24)
    const g = svg.append('g')

    g.selectAll('.wos')
        .data(o.categories)
        .join('rect')
        .attr('x', o.left)
        .attr('y', d => y(d))
        .attr('width', (d, i) => x(o.wos[i]) - o.left)
        .attr('height', y.bandwidth() / 2)
        .attr('fill', WOS_COLOR)

    g.selectAll('.scopus')
        .data(o.categories)
        .join('rect')
        .attr('x', o.left)
        .attr('y', d => y(d) + y.bandwidth() / 2)
        .attr('width', (d, i) => x(o.scopus[i]) - o.left)
        .attr('height', y.bandwidth() / 2)
        .attr('fill', SCOPUS_COLOR)

    g.append('rect')
        .attr('x', o.left)
        .attr('y', o.top)
        .attr('width', o.right - o.left)
        .attr('height', o.bottom - o.top)
        .attr('fill', 'none')
        .attr('stroke', '#000')
        .attr('stroke-width', 2.5)

    const xAxis = g.append('g')
        .attr('class', 'val')
        .attr('transform', `translate(0,${o.bottom})`)
        .call(d3.axisBottom(x).tickValues(axisTicks).tickFormat(d3.format('03d')).tickSize(10).tickPadding(17))
    const yAxis = g.append('g')
        .attr('class', 'cat')
        .attr('transform', `translate(${o.left},0)`)
        .call(d3.axisLeft(y).tickSize(10).tickPadding(18))

    for (const a of [xAxis, yAxis]) {
        a.select('.domain').remove()
        a.selectAll('line').attr('stroke', '#000').attr('stroke-width', 2.5)
    }
}

const drawMap = (p, idx) => {
    const path = d3.geoPath(robinson(715 + p.dx, 1415 + p.dy)).pointRadius(1.7)
    const color = d3.scaleLinear().domain(p.stops).range(p.fills)
    const g = svg.append('g')

    g.selectAll('path')
        .data(features)
        .join('path')
        .attr('class', 'land')
        .attr('d', path)
        .attr('fill', d => {
            const v = p.values[d.properties.name]
            if (v !== undefined) return color(v)
            return unfilled.includes(d.properties.name) ? '#fff' : LAND
        })

    g.append('path')
        .attr('d', path({ type: 'MultiPoint', coordinates: islets }))
        .attr('fill', '#000')

    const grad = defs.append('linearGradient')
        .attr('id', 'ramp' + idx)
        .attr('x1', 0).attr('y1', 1).attr('x2', 0).attr('y2', 0)
    p.ramp.forEach((c, i) => {
        grad.append('stop').attr('offset', i / (p.ramp.length - 1)).attr('stop-color', c)
    })

    const lg = g.append('g').attr('class', 'map-legend')
    lg.append('rect')
        .attr('x', p.bar[0]).attr('y', p.bar[1])
        .attr('width', 30).attr('height', p.bar[2] - p.bar[1])
        .attr('fill', `url(#ramp${idx})`)
        .attr('stroke', '#8a7c80')
        .attr('stroke-width', 2.5)
    lg.append('text').attr('x', p.titleAt[0]).attr('y', p.titleAt[1]).text(p.title)
    lg.selectAll('.lab')
        .data(p.labels)
        .join('text')
        .attr('x', p.labelX)
        .attr('y', (d, i) => p.labelY[i])
        .attr('dy', '.36em')
        .text(d => d)

    svg.append('text')
        .attr('class', 'letter')
        .attr('x', p.letterAt[0]).attr('y', p.letterAt[1])
        .attr('font-size', 60)
        .text(p.letter)
}

drawBars({ categories: categoriesA, wos: wosA, scopus: scopusA, left: 349, right: 1329, top: 63, bottom: 817 })
drawBars({ categories: categoriesB, wos: wosB, scopus: scopusB, left: 1716, right: 2699, top: 46, bottom: 804 })

const chartLetters = [['A', 1363, 124], ['B', 2725, 110]]
svg.selectAll('.chart-letter')
    .data(chartLetters)
    .join('text')
    .attr('class', 'letter')
    .attr('x', d => d[1])
    .attr('y', d => d[2])
    .attr('font-size', 75)
    .text(d => d[0])

const legendItems = [['SCOPUS', SCOPUS_COLOR, 313, 2769, 19, 2797], ['WOS', WOS_COLOR, 398, 2769, 16, 2794]]
legendItems.forEach(d => {
    svg.append('rect').attr('x', d[3]).attr('y', d[2]).attr('width', d[4]).attr('height', 20).attr('fill', d[1])
    svg.append('text').attr('x', d[5]).attr('y', d[2] + 20)
        .attr('font-family', '"Liberation Sans", Arial, sans-serif').attr('font-size', 28).text(d[0])
})

const panels = [
    { letter: 'A', letterAt: [64, 1102], dx: 0, dy: 0, values: wosMapTop, stops: [84, 529, 973], fills: ['#f0d2ee', '#d870c8', '#2d0f38'], ramp: ['#f0d2ee', '#d870c8', '#2d0f38'],
      bar: [1383, 1063, 1320], title: 'WOS', titleAt: [1371, 1019], labels: ['973', '529', '084'], labelX: 1428, labelY: [1069, 1197, 1325] },
    { letter: 'B', letterAt: [1642, 1127], dx: 1567, dy: -13, values: scopusMapTop, stops: [64, 471, 877], fills: ['#f8dccb', '#e8722f', '#7a3a12'], ramp: ['#f8dccb', '#e8722f', '#7a3a12'],
      bar: [2931, 1060, 1318], title: 'SCOPUS', titleAt: [2919, 1016], labels: ['877', '471', '064'], labelX: 2975, labelY: [1065, 1195, 1323] },
    { letter: 'C', letterAt: [37, 1950], dx: -33, dy: 823, values: wosMapBottom, stops: [68, 416, 973], fills: ['#ecc3e8', '#c48bbd', '#6d1e70'], ramp: ['#ecc3e8', '#c85ab5', '#6d1e70'],
      bar: [1353, 1945, 2203], title: 'WOS', titleAt: [1342, 1902], labels: ['973', '521', '068'], labelX: 1400, labelY: [1950, 2079, 2207] },
    { letter: 'D', letterAt: [1636, 1979], dx: 1571, dy: 823, values: scopusMapBottom, stops: [75, 385, 877], fills: ['#f8e0d2', '#e3a98a', '#c4521a'], ramp: ['#f8e0d2', '#e8722f', '#c0531a'],
      bar: [2947, 1938, 2196], title: 'SCOPUS', titleAt: [2937, 1895], labels: ['877', '476', '075'], labelX: 2993, labelY: [1944, 2073, 2200] }
]
panels.forEach(drawMap)
</script>
</body>
</html>
